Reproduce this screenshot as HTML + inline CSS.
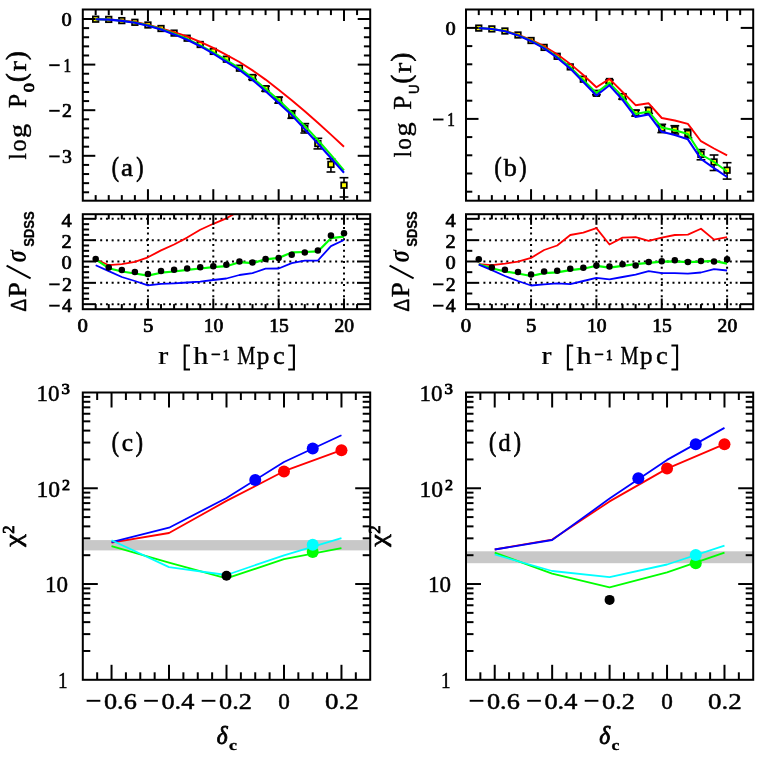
<!DOCTYPE html>
<html><head><meta charset="utf-8"><title>chart</title>
<style>html,body{margin:0;padding:0;background:#fff;}svg{display:block;will-change:transform;}</style></head><body>
<svg width="761" height="761" viewBox="0 0 761 761">
<rect x="0" y="0" width="761" height="761" fill="#fff"/>
<line x1="252.51" y1="75.5" x2="252.51" y2="79.5" stroke="#000" stroke-width="1.6" />
<line x1="248.11" y1="75.5" x2="256.91" y2="75.5" stroke="#000" stroke-width="1.6" />
<line x1="248.11" y1="79.5" x2="256.91" y2="79.5" stroke="#000" stroke-width="1.6" />
<line x1="265.58" y1="86.2" x2="265.58" y2="91.2" stroke="#000" stroke-width="1.6" />
<line x1="261.18" y1="86.2" x2="269.98" y2="86.2" stroke="#000" stroke-width="1.6" />
<line x1="261.18" y1="91.2" x2="269.98" y2="91.2" stroke="#000" stroke-width="1.6" />
<line x1="278.65" y1="97.1" x2="278.65" y2="103.1" stroke="#000" stroke-width="1.6" />
<line x1="274.25" y1="97.1" x2="283.05" y2="97.1" stroke="#000" stroke-width="1.6" />
<line x1="274.25" y1="103.1" x2="283.05" y2="103.1" stroke="#000" stroke-width="1.6" />
<line x1="291.72" y1="110.7" x2="291.72" y2="118.3" stroke="#000" stroke-width="1.6" />
<line x1="287.32" y1="110.7" x2="296.12" y2="110.7" stroke="#000" stroke-width="1.6" />
<line x1="287.32" y1="118.3" x2="296.12" y2="118.3" stroke="#000" stroke-width="1.6" />
<line x1="304.79" y1="123.6" x2="304.79" y2="133" stroke="#000" stroke-width="1.6" />
<line x1="300.39" y1="123.6" x2="309.19" y2="123.6" stroke="#000" stroke-width="1.6" />
<line x1="300.39" y1="133" x2="309.19" y2="133" stroke="#000" stroke-width="1.6" />
<line x1="317.86" y1="138.3" x2="317.86" y2="148.9" stroke="#000" stroke-width="1.6" />
<line x1="313.46" y1="138.3" x2="322.26" y2="138.3" stroke="#000" stroke-width="1.6" />
<line x1="313.46" y1="148.9" x2="322.26" y2="148.9" stroke="#000" stroke-width="1.6" />
<line x1="330.93" y1="158.8" x2="330.93" y2="172" stroke="#000" stroke-width="1.6" />
<line x1="326.53" y1="158.8" x2="335.33" y2="158.8" stroke="#000" stroke-width="1.6" />
<line x1="326.53" y1="172" x2="335.33" y2="172" stroke="#000" stroke-width="1.6" />
<line x1="344" y1="177.7" x2="344" y2="197" stroke="#000" stroke-width="1.6" />
<line x1="339.6" y1="177.7" x2="348.4" y2="177.7" stroke="#000" stroke-width="1.6" />
<line x1="339.6" y1="197" x2="348.4" y2="197" stroke="#000" stroke-width="1.6" />
<rect x="92.87" y="16.4" width="5.6" height="5.6" fill="#ffff00" stroke="#000" stroke-width="1.7"/>
<rect x="105.94" y="16.6" width="5.6" height="5.6" fill="#ffff00" stroke="#000" stroke-width="1.7"/>
<rect x="119.01" y="17.8" width="5.6" height="5.6" fill="#ffff00" stroke="#000" stroke-width="1.7"/>
<rect x="132.08" y="19.5" width="5.6" height="5.6" fill="#ffff00" stroke="#000" stroke-width="1.7"/>
<rect x="145.15" y="22.2" width="5.6" height="5.6" fill="#ffff00" stroke="#000" stroke-width="1.7"/>
<rect x="158.22" y="25.7" width="5.6" height="5.6" fill="#ffff00" stroke="#000" stroke-width="1.7"/>
<rect x="171.29" y="30.3" width="5.6" height="5.6" fill="#ffff00" stroke="#000" stroke-width="1.7"/>
<rect x="184.36" y="35.4" width="5.6" height="5.6" fill="#ffff00" stroke="#000" stroke-width="1.7"/>
<rect x="197.43" y="41.7" width="5.6" height="5.6" fill="#ffff00" stroke="#000" stroke-width="1.7"/>
<rect x="210.5" y="48.6" width="5.6" height="5.6" fill="#ffff00" stroke="#000" stroke-width="1.7"/>
<rect x="223.57" y="56.4" width="5.6" height="5.6" fill="#ffff00" stroke="#000" stroke-width="1.7"/>
<rect x="236.64" y="65.4" width="5.6" height="5.6" fill="#ffff00" stroke="#000" stroke-width="1.7"/>
<rect x="249.71" y="74.7" width="5.6" height="5.6" fill="#ffff00" stroke="#000" stroke-width="1.7"/>
<rect x="262.78" y="85.9" width="5.6" height="5.6" fill="#ffff00" stroke="#000" stroke-width="1.7"/>
<rect x="275.85" y="97.3" width="5.6" height="5.6" fill="#ffff00" stroke="#000" stroke-width="1.7"/>
<rect x="288.92" y="111.7" width="5.6" height="5.6" fill="#ffff00" stroke="#000" stroke-width="1.7"/>
<rect x="301.99" y="125.5" width="5.6" height="5.6" fill="#ffff00" stroke="#000" stroke-width="1.7"/>
<rect x="315.06" y="140.7" width="5.6" height="5.6" fill="#ffff00" stroke="#000" stroke-width="1.7"/>
<rect x="328.13" y="161.6" width="5.6" height="5.6" fill="#ffff00" stroke="#000" stroke-width="1.7"/>
<rect x="341.2" y="182.4" width="5.6" height="5.6" fill="#ffff00" stroke="#000" stroke-width="1.7"/>
<polyline points="95.67,19.2 108.74,19.4 121.81,20.5 134.88,22 147.95,24.6 161.02,28.3 174.09,32.2 187.16,36.5 200.23,41.8 213.3,47.9 226.37,54.8 239.44,62 252.51,70.4 265.58,79.6 278.65,89.8 291.72,100.2 304.79,111.2 317.86,122.8 330.93,134.6 344,146.8" fill="none" stroke="#ff0000" stroke-width="1.9" stroke-linejoin="round" stroke-linecap="butt"/>
<polyline points="95.67,19.2 108.74,19.5 121.81,20.7 134.88,22.5 147.95,25.3 161.02,29 174.09,33.6 187.16,38.8 200.23,45.4 213.3,52.3 226.37,60.2 239.44,68 252.51,77.7 265.58,88.7 278.65,100.1 291.72,112.5 304.79,125.9 317.86,140 330.93,154.8 344,170.3" fill="none" stroke="#00ff00" stroke-width="2" stroke-linejoin="round" stroke-linecap="butt"/>
<polyline points="95.67,19.2 108.74,19.6 121.81,20.9 134.88,22.8 147.95,25.7 161.02,29.6 174.09,34.4 187.16,39.8 200.23,46.2 213.3,53.7 226.37,61.8 239.44,69.8 252.51,79.9 265.58,91.2 278.65,102.9 291.72,115.1 304.79,129.2 317.86,143.5 330.93,158 344,172.7" fill="none" stroke="#0000ff" stroke-width="2.1" stroke-linejoin="round" stroke-linecap="butt"/>
<line x1="95.67" y1="9.5" x2="95.67" y2="15.1" stroke="#000" stroke-width="2" />
<line x1="95.67" y1="200.7" x2="95.67" y2="195.1" stroke="#000" stroke-width="2" />
<line x1="108.74" y1="9.5" x2="108.74" y2="15.1" stroke="#000" stroke-width="2" />
<line x1="108.74" y1="200.7" x2="108.74" y2="195.1" stroke="#000" stroke-width="2" />
<line x1="121.81" y1="9.5" x2="121.81" y2="15.1" stroke="#000" stroke-width="2" />
<line x1="121.81" y1="200.7" x2="121.81" y2="195.1" stroke="#000" stroke-width="2" />
<line x1="134.88" y1="9.5" x2="134.88" y2="15.1" stroke="#000" stroke-width="2" />
<line x1="134.88" y1="200.7" x2="134.88" y2="195.1" stroke="#000" stroke-width="2" />
<line x1="161.02" y1="9.5" x2="161.02" y2="15.1" stroke="#000" stroke-width="2" />
<line x1="161.02" y1="200.7" x2="161.02" y2="195.1" stroke="#000" stroke-width="2" />
<line x1="174.09" y1="9.5" x2="174.09" y2="15.1" stroke="#000" stroke-width="2" />
<line x1="174.09" y1="200.7" x2="174.09" y2="195.1" stroke="#000" stroke-width="2" />
<line x1="187.16" y1="9.5" x2="187.16" y2="15.1" stroke="#000" stroke-width="2" />
<line x1="187.16" y1="200.7" x2="187.16" y2="195.1" stroke="#000" stroke-width="2" />
<line x1="200.23" y1="9.5" x2="200.23" y2="15.1" stroke="#000" stroke-width="2" />
<line x1="200.23" y1="200.7" x2="200.23" y2="195.1" stroke="#000" stroke-width="2" />
<line x1="226.37" y1="9.5" x2="226.37" y2="15.1" stroke="#000" stroke-width="2" />
<line x1="226.37" y1="200.7" x2="226.37" y2="195.1" stroke="#000" stroke-width="2" />
<line x1="239.44" y1="9.5" x2="239.44" y2="15.1" stroke="#000" stroke-width="2" />
<line x1="239.44" y1="200.7" x2="239.44" y2="195.1" stroke="#000" stroke-width="2" />
<line x1="252.51" y1="9.5" x2="252.51" y2="15.1" stroke="#000" stroke-width="2" />
<line x1="252.51" y1="200.7" x2="252.51" y2="195.1" stroke="#000" stroke-width="2" />
<line x1="265.58" y1="9.5" x2="265.58" y2="15.1" stroke="#000" stroke-width="2" />
<line x1="265.58" y1="200.7" x2="265.58" y2="195.1" stroke="#000" stroke-width="2" />
<line x1="291.72" y1="9.5" x2="291.72" y2="15.1" stroke="#000" stroke-width="2" />
<line x1="291.72" y1="200.7" x2="291.72" y2="195.1" stroke="#000" stroke-width="2" />
<line x1="304.79" y1="9.5" x2="304.79" y2="15.1" stroke="#000" stroke-width="2" />
<line x1="304.79" y1="200.7" x2="304.79" y2="195.1" stroke="#000" stroke-width="2" />
<line x1="317.86" y1="9.5" x2="317.86" y2="15.1" stroke="#000" stroke-width="2" />
<line x1="317.86" y1="200.7" x2="317.86" y2="195.1" stroke="#000" stroke-width="2" />
<line x1="330.93" y1="9.5" x2="330.93" y2="15.1" stroke="#000" stroke-width="2" />
<line x1="330.93" y1="200.7" x2="330.93" y2="195.1" stroke="#000" stroke-width="2" />
<line x1="357.07" y1="9.5" x2="357.07" y2="15.1" stroke="#000" stroke-width="2" />
<line x1="357.07" y1="200.7" x2="357.07" y2="195.1" stroke="#000" stroke-width="2" />
<line x1="147.95" y1="9.5" x2="147.95" y2="21" stroke="#000" stroke-width="2" />
<line x1="147.95" y1="200.7" x2="147.95" y2="189.2" stroke="#000" stroke-width="2" />
<line x1="213.3" y1="9.5" x2="213.3" y2="21" stroke="#000" stroke-width="2" />
<line x1="213.3" y1="200.7" x2="213.3" y2="189.2" stroke="#000" stroke-width="2" />
<line x1="278.65" y1="9.5" x2="278.65" y2="21" stroke="#000" stroke-width="2" />
<line x1="278.65" y1="200.7" x2="278.65" y2="189.2" stroke="#000" stroke-width="2" />
<line x1="344" y1="9.5" x2="344" y2="21" stroke="#000" stroke-width="2" />
<line x1="344" y1="200.7" x2="344" y2="189.2" stroke="#000" stroke-width="2" />
<line x1="82.8" y1="192.28" x2="89.1" y2="192.28" stroke="#000" stroke-width="2" />
<line x1="370.2" y1="192.28" x2="363.9" y2="192.28" stroke="#000" stroke-width="2" />
<line x1="82.8" y1="183.16" x2="89.1" y2="183.16" stroke="#000" stroke-width="2" />
<line x1="370.2" y1="183.16" x2="363.9" y2="183.16" stroke="#000" stroke-width="2" />
<line x1="82.8" y1="174.04" x2="89.1" y2="174.04" stroke="#000" stroke-width="2" />
<line x1="370.2" y1="174.04" x2="363.9" y2="174.04" stroke="#000" stroke-width="2" />
<line x1="82.8" y1="164.92" x2="89.1" y2="164.92" stroke="#000" stroke-width="2" />
<line x1="370.2" y1="164.92" x2="363.9" y2="164.92" stroke="#000" stroke-width="2" />
<line x1="82.8" y1="146.68" x2="89.1" y2="146.68" stroke="#000" stroke-width="2" />
<line x1="370.2" y1="146.68" x2="363.9" y2="146.68" stroke="#000" stroke-width="2" />
<line x1="82.8" y1="137.56" x2="89.1" y2="137.56" stroke="#000" stroke-width="2" />
<line x1="370.2" y1="137.56" x2="363.9" y2="137.56" stroke="#000" stroke-width="2" />
<line x1="82.8" y1="128.44" x2="89.1" y2="128.44" stroke="#000" stroke-width="2" />
<line x1="370.2" y1="128.44" x2="363.9" y2="128.44" stroke="#000" stroke-width="2" />
<line x1="82.8" y1="119.32" x2="89.1" y2="119.32" stroke="#000" stroke-width="2" />
<line x1="370.2" y1="119.32" x2="363.9" y2="119.32" stroke="#000" stroke-width="2" />
<line x1="82.8" y1="101.08" x2="89.1" y2="101.08" stroke="#000" stroke-width="2" />
<line x1="370.2" y1="101.08" x2="363.9" y2="101.08" stroke="#000" stroke-width="2" />
<line x1="82.8" y1="91.96" x2="89.1" y2="91.96" stroke="#000" stroke-width="2" />
<line x1="370.2" y1="91.96" x2="363.9" y2="91.96" stroke="#000" stroke-width="2" />
<line x1="82.8" y1="82.84" x2="89.1" y2="82.84" stroke="#000" stroke-width="2" />
<line x1="370.2" y1="82.84" x2="363.9" y2="82.84" stroke="#000" stroke-width="2" />
<line x1="82.8" y1="73.72" x2="89.1" y2="73.72" stroke="#000" stroke-width="2" />
<line x1="370.2" y1="73.72" x2="363.9" y2="73.72" stroke="#000" stroke-width="2" />
<line x1="82.8" y1="55.48" x2="89.1" y2="55.48" stroke="#000" stroke-width="2" />
<line x1="370.2" y1="55.48" x2="363.9" y2="55.48" stroke="#000" stroke-width="2" />
<line x1="82.8" y1="46.36" x2="89.1" y2="46.36" stroke="#000" stroke-width="2" />
<line x1="370.2" y1="46.36" x2="363.9" y2="46.36" stroke="#000" stroke-width="2" />
<line x1="82.8" y1="37.24" x2="89.1" y2="37.24" stroke="#000" stroke-width="2" />
<line x1="370.2" y1="37.24" x2="363.9" y2="37.24" stroke="#000" stroke-width="2" />
<line x1="82.8" y1="28.12" x2="89.1" y2="28.12" stroke="#000" stroke-width="2" />
<line x1="370.2" y1="28.12" x2="363.9" y2="28.12" stroke="#000" stroke-width="2" />
<line x1="82.8" y1="155.8" x2="95.3" y2="155.8" stroke="#000" stroke-width="2" />
<line x1="370.2" y1="155.8" x2="357.7" y2="155.8" stroke="#000" stroke-width="2" />
<line x1="82.8" y1="110.2" x2="95.3" y2="110.2" stroke="#000" stroke-width="2" />
<line x1="370.2" y1="110.2" x2="357.7" y2="110.2" stroke="#000" stroke-width="2" />
<line x1="82.8" y1="64.6" x2="95.3" y2="64.6" stroke="#000" stroke-width="2" />
<line x1="370.2" y1="64.6" x2="357.7" y2="64.6" stroke="#000" stroke-width="2" />
<line x1="82.8" y1="19" x2="95.3" y2="19" stroke="#000" stroke-width="2" />
<line x1="370.2" y1="19" x2="357.7" y2="19" stroke="#000" stroke-width="2" />
<rect x="82.8" y="9.5" width="287.4" height="191.2" fill="none" stroke="#000" stroke-width="2"/>
<line x1="596.4" y1="91.8" x2="596.4" y2="94.8" stroke="#000" stroke-width="1.6" />
<line x1="592" y1="91.8" x2="600.8" y2="91.8" stroke="#000" stroke-width="1.6" />
<line x1="592" y1="94.8" x2="600.8" y2="94.8" stroke="#000" stroke-width="1.6" />
<line x1="609.47" y1="80" x2="609.47" y2="83" stroke="#000" stroke-width="1.6" />
<line x1="605.07" y1="80" x2="613.87" y2="80" stroke="#000" stroke-width="1.6" />
<line x1="605.07" y1="83" x2="613.87" y2="83" stroke="#000" stroke-width="1.6" />
<line x1="622.54" y1="94.1" x2="622.54" y2="99.1" stroke="#000" stroke-width="1.6" />
<line x1="618.14" y1="94.1" x2="626.94" y2="94.1" stroke="#000" stroke-width="1.6" />
<line x1="618.14" y1="99.1" x2="626.94" y2="99.1" stroke="#000" stroke-width="1.6" />
<line x1="635.61" y1="110.1" x2="635.61" y2="116.1" stroke="#000" stroke-width="1.6" />
<line x1="631.21" y1="110.1" x2="640.01" y2="110.1" stroke="#000" stroke-width="1.6" />
<line x1="631.21" y1="116.1" x2="640.01" y2="116.1" stroke="#000" stroke-width="1.6" />
<line x1="648.68" y1="107.4" x2="648.68" y2="113.4" stroke="#000" stroke-width="1.6" />
<line x1="644.28" y1="107.4" x2="653.08" y2="107.4" stroke="#000" stroke-width="1.6" />
<line x1="644.28" y1="113.4" x2="653.08" y2="113.4" stroke="#000" stroke-width="1.6" />
<line x1="661.75" y1="124.3" x2="661.75" y2="132.6" stroke="#000" stroke-width="1.6" />
<line x1="657.35" y1="124.3" x2="666.15" y2="124.3" stroke="#000" stroke-width="1.6" />
<line x1="657.35" y1="132.6" x2="666.15" y2="132.6" stroke="#000" stroke-width="1.6" />
<line x1="674.82" y1="125.7" x2="674.82" y2="134" stroke="#000" stroke-width="1.6" />
<line x1="670.42" y1="125.7" x2="679.22" y2="125.7" stroke="#000" stroke-width="1.6" />
<line x1="670.42" y1="134" x2="679.22" y2="134" stroke="#000" stroke-width="1.6" />
<line x1="687.89" y1="129.2" x2="687.89" y2="137.9" stroke="#000" stroke-width="1.6" />
<line x1="683.49" y1="129.2" x2="692.29" y2="129.2" stroke="#000" stroke-width="1.6" />
<line x1="683.49" y1="137.9" x2="692.29" y2="137.9" stroke="#000" stroke-width="1.6" />
<line x1="700.96" y1="149.6" x2="700.96" y2="159.8" stroke="#000" stroke-width="1.6" />
<line x1="696.56" y1="149.6" x2="705.36" y2="149.6" stroke="#000" stroke-width="1.6" />
<line x1="696.56" y1="159.8" x2="705.36" y2="159.8" stroke="#000" stroke-width="1.6" />
<line x1="714.03" y1="155" x2="714.03" y2="170.5" stroke="#000" stroke-width="1.6" />
<line x1="709.63" y1="155" x2="718.43" y2="155" stroke="#000" stroke-width="1.6" />
<line x1="709.63" y1="170.5" x2="718.43" y2="170.5" stroke="#000" stroke-width="1.6" />
<line x1="727.1" y1="162.7" x2="727.1" y2="179.1" stroke="#000" stroke-width="1.6" />
<line x1="722.7" y1="162.7" x2="731.5" y2="162.7" stroke="#000" stroke-width="1.6" />
<line x1="722.7" y1="179.1" x2="731.5" y2="179.1" stroke="#000" stroke-width="1.6" />
<rect x="475.97" y="25.3" width="5.6" height="5.6" fill="#ffff00" stroke="#000" stroke-width="1.7"/>
<rect x="489.04" y="26.1" width="5.6" height="5.6" fill="#ffff00" stroke="#000" stroke-width="1.7"/>
<rect x="502.11" y="28.2" width="5.6" height="5.6" fill="#ffff00" stroke="#000" stroke-width="1.7"/>
<rect x="515.18" y="32.2" width="5.6" height="5.6" fill="#ffff00" stroke="#000" stroke-width="1.7"/>
<rect x="528.25" y="37.7" width="5.6" height="5.6" fill="#ffff00" stroke="#000" stroke-width="1.7"/>
<rect x="541.32" y="44.6" width="5.6" height="5.6" fill="#ffff00" stroke="#000" stroke-width="1.7"/>
<rect x="554.39" y="53.5" width="5.6" height="5.6" fill="#ffff00" stroke="#000" stroke-width="1.7"/>
<rect x="567.46" y="64.1" width="5.6" height="5.6" fill="#ffff00" stroke="#000" stroke-width="1.7"/>
<rect x="580.53" y="76.4" width="5.6" height="5.6" fill="#ffff00" stroke="#000" stroke-width="1.7"/>
<rect x="593.6" y="90.5" width="5.6" height="5.6" fill="#ffff00" stroke="#000" stroke-width="1.7"/>
<rect x="606.67" y="78.7" width="5.6" height="5.6" fill="#ffff00" stroke="#000" stroke-width="1.7"/>
<rect x="619.74" y="93.8" width="5.6" height="5.6" fill="#ffff00" stroke="#000" stroke-width="1.7"/>
<rect x="632.81" y="110.3" width="5.6" height="5.6" fill="#ffff00" stroke="#000" stroke-width="1.7"/>
<rect x="645.88" y="107.6" width="5.6" height="5.6" fill="#ffff00" stroke="#000" stroke-width="1.7"/>
<rect x="658.95" y="125.5" width="5.6" height="5.6" fill="#ffff00" stroke="#000" stroke-width="1.7"/>
<rect x="672.02" y="126.9" width="5.6" height="5.6" fill="#ffff00" stroke="#000" stroke-width="1.7"/>
<rect x="685.09" y="130.6" width="5.6" height="5.6" fill="#ffff00" stroke="#000" stroke-width="1.7"/>
<rect x="698.16" y="151.6" width="5.6" height="5.6" fill="#ffff00" stroke="#000" stroke-width="1.7"/>
<rect x="711.23" y="159.2" width="5.6" height="5.6" fill="#ffff00" stroke="#000" stroke-width="1.7"/>
<rect x="724.3" y="167.4" width="5.6" height="5.6" fill="#ffff00" stroke="#000" stroke-width="1.7"/>
<polyline points="478.77,28.1 491.84,28.9 504.91,30.9 517.98,34.6 531.05,39.8 544.12,46.2 557.19,54.3 570.26,63.9 583.33,75 596.4,87.3 609.47,78.9 622.54,92 635.61,105.2 648.68,103.3 661.75,118 674.82,120.5 687.89,123.9 700.96,141.2 714.03,148.5 727.1,155.3" fill="none" stroke="#ff0000" stroke-width="1.9" stroke-linejoin="round" stroke-linecap="butt"/>
<polyline points="478.77,28.1 491.84,28.9 504.91,31.1 517.98,35.1 531.05,40.7 544.12,47.7 557.19,56.7 570.26,67.1 583.33,80 596.4,92.9 609.47,82.9 622.54,96.6 635.61,114 648.68,111.4 661.75,127.5 674.82,130.3 687.89,134 700.96,154.4 714.03,162 727.1,171.5" fill="none" stroke="#00ff00" stroke-width="2" stroke-linejoin="round" stroke-linecap="butt"/>
<polyline points="478.77,28.1 491.84,29 504.91,31.3 517.98,35.4 531.05,41.2 544.12,48.4 557.19,57.7 570.26,68.6 583.33,82 596.4,95.5 609.47,85.2 622.54,99.9 635.61,117 648.68,114.4 661.75,131.8 674.82,135.1 687.89,139.3 700.96,159 714.03,168.2 727.1,177" fill="none" stroke="#0000ff" stroke-width="2.1" stroke-linejoin="round" stroke-linecap="butt"/>
<line x1="478.77" y1="9.5" x2="478.77" y2="15.1" stroke="#000" stroke-width="2" />
<line x1="478.77" y1="200.7" x2="478.77" y2="195.1" stroke="#000" stroke-width="2" />
<line x1="491.84" y1="9.5" x2="491.84" y2="15.1" stroke="#000" stroke-width="2" />
<line x1="491.84" y1="200.7" x2="491.84" y2="195.1" stroke="#000" stroke-width="2" />
<line x1="504.91" y1="9.5" x2="504.91" y2="15.1" stroke="#000" stroke-width="2" />
<line x1="504.91" y1="200.7" x2="504.91" y2="195.1" stroke="#000" stroke-width="2" />
<line x1="517.98" y1="9.5" x2="517.98" y2="15.1" stroke="#000" stroke-width="2" />
<line x1="517.98" y1="200.7" x2="517.98" y2="195.1" stroke="#000" stroke-width="2" />
<line x1="544.12" y1="9.5" x2="544.12" y2="15.1" stroke="#000" stroke-width="2" />
<line x1="544.12" y1="200.7" x2="544.12" y2="195.1" stroke="#000" stroke-width="2" />
<line x1="557.19" y1="9.5" x2="557.19" y2="15.1" stroke="#000" stroke-width="2" />
<line x1="557.19" y1="200.7" x2="557.19" y2="195.1" stroke="#000" stroke-width="2" />
<line x1="570.26" y1="9.5" x2="570.26" y2="15.1" stroke="#000" stroke-width="2" />
<line x1="570.26" y1="200.7" x2="570.26" y2="195.1" stroke="#000" stroke-width="2" />
<line x1="583.33" y1="9.5" x2="583.33" y2="15.1" stroke="#000" stroke-width="2" />
<line x1="583.33" y1="200.7" x2="583.33" y2="195.1" stroke="#000" stroke-width="2" />
<line x1="609.47" y1="9.5" x2="609.47" y2="15.1" stroke="#000" stroke-width="2" />
<line x1="609.47" y1="200.7" x2="609.47" y2="195.1" stroke="#000" stroke-width="2" />
<line x1="622.54" y1="9.5" x2="622.54" y2="15.1" stroke="#000" stroke-width="2" />
<line x1="622.54" y1="200.7" x2="622.54" y2="195.1" stroke="#000" stroke-width="2" />
<line x1="635.61" y1="9.5" x2="635.61" y2="15.1" stroke="#000" stroke-width="2" />
<line x1="635.61" y1="200.7" x2="635.61" y2="195.1" stroke="#000" stroke-width="2" />
<line x1="648.68" y1="9.5" x2="648.68" y2="15.1" stroke="#000" stroke-width="2" />
<line x1="648.68" y1="200.7" x2="648.68" y2="195.1" stroke="#000" stroke-width="2" />
<line x1="674.82" y1="9.5" x2="674.82" y2="15.1" stroke="#000" stroke-width="2" />
<line x1="674.82" y1="200.7" x2="674.82" y2="195.1" stroke="#000" stroke-width="2" />
<line x1="687.89" y1="9.5" x2="687.89" y2="15.1" stroke="#000" stroke-width="2" />
<line x1="687.89" y1="200.7" x2="687.89" y2="195.1" stroke="#000" stroke-width="2" />
<line x1="700.96" y1="9.5" x2="700.96" y2="15.1" stroke="#000" stroke-width="2" />
<line x1="700.96" y1="200.7" x2="700.96" y2="195.1" stroke="#000" stroke-width="2" />
<line x1="714.03" y1="9.5" x2="714.03" y2="15.1" stroke="#000" stroke-width="2" />
<line x1="714.03" y1="200.7" x2="714.03" y2="195.1" stroke="#000" stroke-width="2" />
<line x1="740.17" y1="9.5" x2="740.17" y2="15.1" stroke="#000" stroke-width="2" />
<line x1="740.17" y1="200.7" x2="740.17" y2="195.1" stroke="#000" stroke-width="2" />
<line x1="531.05" y1="9.5" x2="531.05" y2="21" stroke="#000" stroke-width="2" />
<line x1="531.05" y1="200.7" x2="531.05" y2="189.2" stroke="#000" stroke-width="2" />
<line x1="596.4" y1="9.5" x2="596.4" y2="21" stroke="#000" stroke-width="2" />
<line x1="596.4" y1="200.7" x2="596.4" y2="189.2" stroke="#000" stroke-width="2" />
<line x1="661.75" y1="9.5" x2="661.75" y2="21" stroke="#000" stroke-width="2" />
<line x1="661.75" y1="200.7" x2="661.75" y2="189.2" stroke="#000" stroke-width="2" />
<line x1="727.1" y1="9.5" x2="727.1" y2="21" stroke="#000" stroke-width="2" />
<line x1="727.1" y1="200.7" x2="727.1" y2="189.2" stroke="#000" stroke-width="2" />
<line x1="466" y1="191.7" x2="472.3" y2="191.7" stroke="#000" stroke-width="2" />
<line x1="753.2" y1="191.7" x2="746.9" y2="191.7" stroke="#000" stroke-width="2" />
<line x1="466" y1="173.5" x2="472.3" y2="173.5" stroke="#000" stroke-width="2" />
<line x1="753.2" y1="173.5" x2="746.9" y2="173.5" stroke="#000" stroke-width="2" />
<line x1="466" y1="155.3" x2="472.3" y2="155.3" stroke="#000" stroke-width="2" />
<line x1="753.2" y1="155.3" x2="746.9" y2="155.3" stroke="#000" stroke-width="2" />
<line x1="466" y1="137.1" x2="472.3" y2="137.1" stroke="#000" stroke-width="2" />
<line x1="753.2" y1="137.1" x2="746.9" y2="137.1" stroke="#000" stroke-width="2" />
<line x1="466" y1="100.7" x2="472.3" y2="100.7" stroke="#000" stroke-width="2" />
<line x1="753.2" y1="100.7" x2="746.9" y2="100.7" stroke="#000" stroke-width="2" />
<line x1="466" y1="82.5" x2="472.3" y2="82.5" stroke="#000" stroke-width="2" />
<line x1="753.2" y1="82.5" x2="746.9" y2="82.5" stroke="#000" stroke-width="2" />
<line x1="466" y1="64.3" x2="472.3" y2="64.3" stroke="#000" stroke-width="2" />
<line x1="753.2" y1="64.3" x2="746.9" y2="64.3" stroke="#000" stroke-width="2" />
<line x1="466" y1="46.1" x2="472.3" y2="46.1" stroke="#000" stroke-width="2" />
<line x1="753.2" y1="46.1" x2="746.9" y2="46.1" stroke="#000" stroke-width="2" />
<line x1="466" y1="118.9" x2="478.5" y2="118.9" stroke="#000" stroke-width="2" />
<line x1="753.2" y1="118.9" x2="740.7" y2="118.9" stroke="#000" stroke-width="2" />
<line x1="466" y1="27.9" x2="478.5" y2="27.9" stroke="#000" stroke-width="2" />
<line x1="753.2" y1="27.9" x2="740.7" y2="27.9" stroke="#000" stroke-width="2" />
<rect x="466" y="9.5" width="287.2" height="191.2" fill="none" stroke="#000" stroke-width="2"/>
<clipPath id="ca"><rect x="82.8" y="214.2" width="287.4" height="95"/></clipPath>
<line x1="100.2" y1="218.82" x2="357.2" y2="218.82" stroke="#000" stroke-width="2" stroke-dasharray="2 3.73"/>
<line x1="100.2" y1="240.16" x2="357.2" y2="240.16" stroke="#000" stroke-width="2" stroke-dasharray="2 3.73"/>
<line x1="100.2" y1="261.5" x2="357.2" y2="261.5" stroke="#000" stroke-width="2" stroke-dasharray="2 3.73"/>
<line x1="100.2" y1="282.84" x2="357.2" y2="282.84" stroke="#000" stroke-width="2" stroke-dasharray="2 3.73"/>
<line x1="100.2" y1="304.18" x2="357.2" y2="304.18" stroke="#000" stroke-width="2" stroke-dasharray="2 3.73"/>
<line x1="147.95" y1="226.9" x2="147.95" y2="298.7" stroke="#000" stroke-width="2" stroke-dasharray="2 3.7"/>
<line x1="213.3" y1="226.9" x2="213.3" y2="298.7" stroke="#000" stroke-width="2" stroke-dasharray="2 3.7"/>
<line x1="278.65" y1="226.9" x2="278.65" y2="298.7" stroke="#000" stroke-width="2" stroke-dasharray="2 3.7"/>
<line x1="344" y1="226.9" x2="344" y2="298.7" stroke="#000" stroke-width="2" stroke-dasharray="2 3.7"/>
<g clip-path="url(#ca)">
<polyline points="95.67,259.3 108.74,265.2 121.81,264.2 134.88,261.8 147.95,257.3 161.02,250.4 174.09,244.5 187.16,237.6 200.23,229.7 213.3,223.8 226.37,218.3 239.44,211" fill="none" stroke="#ff0000" stroke-width="1.8" stroke-linejoin="round" stroke-linecap="butt"/>
<polyline points="95.67,259.3 108.74,268.2 121.81,271.5 134.88,273.5 147.95,275.6 161.02,272.7 174.09,271.5 187.16,269.9 200.23,268.5 213.3,267.2 226.37,266.2 239.44,262.2 252.51,263.2 265.58,259.3 278.65,257.9 291.72,252.4 304.79,252 317.86,251.4 330.93,238.2 344,236.6" fill="none" stroke="#00ff00" stroke-width="2.2" stroke-linejoin="round" stroke-linecap="butt"/>
<polyline points="95.67,265.2 108.74,271.1 121.81,277 134.88,281 147.95,285.3 161.02,283.9 174.09,283.3 187.16,282.5 200.23,281.6 213.3,280 226.37,278.5 239.44,275 252.51,273.1 265.58,268.7 278.65,268.5 291.72,263.2 304.79,260.7 317.86,260.5 330.93,246.1 344,240" fill="none" stroke="#0000ff" stroke-width="1.8" stroke-linejoin="round" stroke-linecap="butt"/>
</g>
<circle cx="95.67" cy="258.9" r="3.25" fill="#000"/>
<circle cx="108.74" cy="267.6" r="3.25" fill="#000"/>
<circle cx="121.81" cy="270.1" r="3.25" fill="#000"/>
<circle cx="134.88" cy="272.1" r="3.25" fill="#000"/>
<circle cx="147.95" cy="274.1" r="3.25" fill="#000"/>
<circle cx="161.02" cy="271.1" r="3.25" fill="#000"/>
<circle cx="174.09" cy="269.7" r="3.25" fill="#000"/>
<circle cx="187.16" cy="268.5" r="3.25" fill="#000"/>
<circle cx="200.23" cy="267.2" r="3.25" fill="#000"/>
<circle cx="213.3" cy="266.2" r="3.25" fill="#000"/>
<circle cx="226.37" cy="264.8" r="3.25" fill="#000"/>
<circle cx="239.44" cy="261.6" r="3.25" fill="#000"/>
<circle cx="252.51" cy="262.6" r="3.25" fill="#000"/>
<circle cx="265.58" cy="258.9" r="3.25" fill="#000"/>
<circle cx="278.65" cy="257.9" r="3.25" fill="#000"/>
<circle cx="291.72" cy="254.7" r="3.25" fill="#000"/>
<circle cx="304.79" cy="252.4" r="3.25" fill="#000"/>
<circle cx="317.86" cy="250.4" r="3.25" fill="#000"/>
<circle cx="330.93" cy="235.6" r="3.25" fill="#000"/>
<circle cx="344" cy="233.3" r="3.25" fill="#000"/>
<line x1="95.67" y1="214.2" x2="95.67" y2="219.3" stroke="#000" stroke-width="2" />
<line x1="95.67" y1="309.2" x2="95.67" y2="304.1" stroke="#000" stroke-width="2" />
<line x1="108.74" y1="214.2" x2="108.74" y2="219.3" stroke="#000" stroke-width="2" />
<line x1="108.74" y1="309.2" x2="108.74" y2="304.1" stroke="#000" stroke-width="2" />
<line x1="121.81" y1="214.2" x2="121.81" y2="219.3" stroke="#000" stroke-width="2" />
<line x1="121.81" y1="309.2" x2="121.81" y2="304.1" stroke="#000" stroke-width="2" />
<line x1="134.88" y1="214.2" x2="134.88" y2="219.3" stroke="#000" stroke-width="2" />
<line x1="134.88" y1="309.2" x2="134.88" y2="304.1" stroke="#000" stroke-width="2" />
<line x1="161.02" y1="214.2" x2="161.02" y2="219.3" stroke="#000" stroke-width="2" />
<line x1="161.02" y1="309.2" x2="161.02" y2="304.1" stroke="#000" stroke-width="2" />
<line x1="174.09" y1="214.2" x2="174.09" y2="219.3" stroke="#000" stroke-width="2" />
<line x1="174.09" y1="309.2" x2="174.09" y2="304.1" stroke="#000" stroke-width="2" />
<line x1="187.16" y1="214.2" x2="187.16" y2="219.3" stroke="#000" stroke-width="2" />
<line x1="187.16" y1="309.2" x2="187.16" y2="304.1" stroke="#000" stroke-width="2" />
<line x1="200.23" y1="214.2" x2="200.23" y2="219.3" stroke="#000" stroke-width="2" />
<line x1="200.23" y1="309.2" x2="200.23" y2="304.1" stroke="#000" stroke-width="2" />
<line x1="226.37" y1="214.2" x2="226.37" y2="219.3" stroke="#000" stroke-width="2" />
<line x1="226.37" y1="309.2" x2="226.37" y2="304.1" stroke="#000" stroke-width="2" />
<line x1="239.44" y1="214.2" x2="239.44" y2="219.3" stroke="#000" stroke-width="2" />
<line x1="239.44" y1="309.2" x2="239.44" y2="304.1" stroke="#000" stroke-width="2" />
<line x1="252.51" y1="214.2" x2="252.51" y2="219.3" stroke="#000" stroke-width="2" />
<line x1="252.51" y1="309.2" x2="252.51" y2="304.1" stroke="#000" stroke-width="2" />
<line x1="265.58" y1="214.2" x2="265.58" y2="219.3" stroke="#000" stroke-width="2" />
<line x1="265.58" y1="309.2" x2="265.58" y2="304.1" stroke="#000" stroke-width="2" />
<line x1="291.72" y1="214.2" x2="291.72" y2="219.3" stroke="#000" stroke-width="2" />
<line x1="291.72" y1="309.2" x2="291.72" y2="304.1" stroke="#000" stroke-width="2" />
<line x1="304.79" y1="214.2" x2="304.79" y2="219.3" stroke="#000" stroke-width="2" />
<line x1="304.79" y1="309.2" x2="304.79" y2="304.1" stroke="#000" stroke-width="2" />
<line x1="317.86" y1="214.2" x2="317.86" y2="219.3" stroke="#000" stroke-width="2" />
<line x1="317.86" y1="309.2" x2="317.86" y2="304.1" stroke="#000" stroke-width="2" />
<line x1="330.93" y1="214.2" x2="330.93" y2="219.3" stroke="#000" stroke-width="2" />
<line x1="330.93" y1="309.2" x2="330.93" y2="304.1" stroke="#000" stroke-width="2" />
<line x1="357.07" y1="214.2" x2="357.07" y2="219.3" stroke="#000" stroke-width="2" />
<line x1="357.07" y1="309.2" x2="357.07" y2="304.1" stroke="#000" stroke-width="2" />
<line x1="147.95" y1="214.2" x2="147.95" y2="224.8" stroke="#000" stroke-width="2" />
<line x1="147.95" y1="309.2" x2="147.95" y2="298.6" stroke="#000" stroke-width="2" />
<line x1="213.3" y1="214.2" x2="213.3" y2="224.8" stroke="#000" stroke-width="2" />
<line x1="213.3" y1="309.2" x2="213.3" y2="298.6" stroke="#000" stroke-width="2" />
<line x1="278.65" y1="214.2" x2="278.65" y2="224.8" stroke="#000" stroke-width="2" />
<line x1="278.65" y1="309.2" x2="278.65" y2="298.6" stroke="#000" stroke-width="2" />
<line x1="344" y1="214.2" x2="344" y2="224.8" stroke="#000" stroke-width="2" />
<line x1="344" y1="309.2" x2="344" y2="298.6" stroke="#000" stroke-width="2" />
<line x1="82.8" y1="298.85" x2="89.1" y2="298.85" stroke="#000" stroke-width="2" />
<line x1="370.2" y1="298.85" x2="363.9" y2="298.85" stroke="#000" stroke-width="2" />
<line x1="82.8" y1="293.51" x2="89.1" y2="293.51" stroke="#000" stroke-width="2" />
<line x1="370.2" y1="293.51" x2="363.9" y2="293.51" stroke="#000" stroke-width="2" />
<line x1="82.8" y1="288.18" x2="89.1" y2="288.18" stroke="#000" stroke-width="2" />
<line x1="370.2" y1="288.18" x2="363.9" y2="288.18" stroke="#000" stroke-width="2" />
<line x1="82.8" y1="277.5" x2="89.1" y2="277.5" stroke="#000" stroke-width="2" />
<line x1="370.2" y1="277.5" x2="363.9" y2="277.5" stroke="#000" stroke-width="2" />
<line x1="82.8" y1="272.17" x2="89.1" y2="272.17" stroke="#000" stroke-width="2" />
<line x1="370.2" y1="272.17" x2="363.9" y2="272.17" stroke="#000" stroke-width="2" />
<line x1="82.8" y1="266.83" x2="89.1" y2="266.83" stroke="#000" stroke-width="2" />
<line x1="370.2" y1="266.83" x2="363.9" y2="266.83" stroke="#000" stroke-width="2" />
<line x1="82.8" y1="256.17" x2="89.1" y2="256.17" stroke="#000" stroke-width="2" />
<line x1="370.2" y1="256.17" x2="363.9" y2="256.17" stroke="#000" stroke-width="2" />
<line x1="82.8" y1="250.83" x2="89.1" y2="250.83" stroke="#000" stroke-width="2" />
<line x1="370.2" y1="250.83" x2="363.9" y2="250.83" stroke="#000" stroke-width="2" />
<line x1="82.8" y1="245.5" x2="89.1" y2="245.5" stroke="#000" stroke-width="2" />
<line x1="370.2" y1="245.5" x2="363.9" y2="245.5" stroke="#000" stroke-width="2" />
<line x1="82.8" y1="234.82" x2="89.1" y2="234.82" stroke="#000" stroke-width="2" />
<line x1="370.2" y1="234.82" x2="363.9" y2="234.82" stroke="#000" stroke-width="2" />
<line x1="82.8" y1="229.49" x2="89.1" y2="229.49" stroke="#000" stroke-width="2" />
<line x1="370.2" y1="229.49" x2="363.9" y2="229.49" stroke="#000" stroke-width="2" />
<line x1="82.8" y1="224.16" x2="89.1" y2="224.16" stroke="#000" stroke-width="2" />
<line x1="370.2" y1="224.16" x2="363.9" y2="224.16" stroke="#000" stroke-width="2" />
<line x1="82.8" y1="304.18" x2="96" y2="304.18" stroke="#000" stroke-width="2" />
<line x1="370.2" y1="304.18" x2="357" y2="304.18" stroke="#000" stroke-width="2" />
<line x1="82.8" y1="282.84" x2="96" y2="282.84" stroke="#000" stroke-width="2" />
<line x1="370.2" y1="282.84" x2="357" y2="282.84" stroke="#000" stroke-width="2" />
<line x1="82.8" y1="261.5" x2="96" y2="261.5" stroke="#000" stroke-width="2" />
<line x1="370.2" y1="261.5" x2="357" y2="261.5" stroke="#000" stroke-width="2" />
<line x1="82.8" y1="240.16" x2="96" y2="240.16" stroke="#000" stroke-width="2" />
<line x1="370.2" y1="240.16" x2="357" y2="240.16" stroke="#000" stroke-width="2" />
<line x1="82.8" y1="218.82" x2="96" y2="218.82" stroke="#000" stroke-width="2" />
<line x1="370.2" y1="218.82" x2="357" y2="218.82" stroke="#000" stroke-width="2" />
<rect x="82.8" y="214.2" width="287.4" height="95" fill="none" stroke="#000" stroke-width="2"/>
<clipPath id="cb"><rect x="466" y="214.2" width="287.2" height="95"/></clipPath>
<line x1="483.4" y1="218.82" x2="740.2" y2="218.82" stroke="#000" stroke-width="2" stroke-dasharray="2 3.73"/>
<line x1="483.4" y1="240.16" x2="740.2" y2="240.16" stroke="#000" stroke-width="2" stroke-dasharray="2 3.73"/>
<line x1="483.4" y1="261.5" x2="740.2" y2="261.5" stroke="#000" stroke-width="2" stroke-dasharray="2 3.73"/>
<line x1="483.4" y1="282.84" x2="740.2" y2="282.84" stroke="#000" stroke-width="2" stroke-dasharray="2 3.73"/>
<line x1="483.4" y1="304.18" x2="740.2" y2="304.18" stroke="#000" stroke-width="2" stroke-dasharray="2 3.73"/>
<line x1="531.05" y1="226.9" x2="531.05" y2="298.7" stroke="#000" stroke-width="2" stroke-dasharray="2 3.7"/>
<line x1="596.4" y1="226.9" x2="596.4" y2="298.7" stroke="#000" stroke-width="2" stroke-dasharray="2 3.7"/>
<line x1="661.75" y1="226.9" x2="661.75" y2="298.7" stroke="#000" stroke-width="2" stroke-dasharray="2 3.7"/>
<line x1="727.1" y1="226.9" x2="727.1" y2="298.7" stroke="#000" stroke-width="2" stroke-dasharray="2 3.7"/>
<g clip-path="url(#cb)">
<polyline points="478.77,264.2 491.84,265.2 504.91,263.6 517.98,261.6 531.05,257.9 544.12,250 557.19,245.5 570.26,235 583.33,232.7 596.4,228.1 609.47,244.5 622.54,237.6 635.61,237.2 648.68,240.9 661.75,237.6 674.82,235 687.89,234.6 700.96,228.7 714.03,239.6 727.1,237.2" fill="none" stroke="#ff0000" stroke-width="1.8" stroke-linejoin="round" stroke-linecap="butt"/>
<polyline points="478.77,264.2 491.84,268.2 504.91,271.5 517.98,273.5 531.05,276 544.12,273.1 557.19,272.3 570.26,270.1 583.33,268.7 596.4,265.8 609.47,267.6 622.54,265.8 635.61,264.2 648.68,262.8 661.75,261.6 674.82,261.3 687.89,262.2 700.96,261.6 714.03,260.9 727.1,263.6" fill="none" stroke="#00ff00" stroke-width="2.2" stroke-linejoin="round" stroke-linecap="butt"/>
<polyline points="478.77,264.6 491.84,270.1 504.91,276 517.98,281 531.05,285.5 544.12,284.3 557.19,283.3 570.26,284.1 583.33,281 596.4,277.8 609.47,279.4 622.54,277 635.61,274.7 648.68,271.1 661.75,273.1 674.82,273.1 687.89,273.7 700.96,272.5 714.03,269.1 727.1,270.5" fill="none" stroke="#0000ff" stroke-width="1.8" stroke-linejoin="round" stroke-linecap="butt"/>
</g>
<circle cx="478.77" cy="259.3" r="3.25" fill="#000"/>
<circle cx="491.84" cy="267.6" r="3.25" fill="#000"/>
<circle cx="504.91" cy="269.7" r="3.25" fill="#000"/>
<circle cx="517.98" cy="272.1" r="3.25" fill="#000"/>
<circle cx="531.05" cy="274.5" r="3.25" fill="#000"/>
<circle cx="544.12" cy="271.5" r="3.25" fill="#000"/>
<circle cx="557.19" cy="270.7" r="3.25" fill="#000"/>
<circle cx="570.26" cy="268.7" r="3.25" fill="#000"/>
<circle cx="583.33" cy="267.8" r="3.25" fill="#000"/>
<circle cx="596.4" cy="265.6" r="3.25" fill="#000"/>
<circle cx="609.47" cy="266.4" r="3.25" fill="#000"/>
<circle cx="622.54" cy="264.2" r="3.25" fill="#000"/>
<circle cx="635.61" cy="265.6" r="3.25" fill="#000"/>
<circle cx="648.68" cy="262" r="3.25" fill="#000"/>
<circle cx="661.75" cy="261.3" r="3.25" fill="#000"/>
<circle cx="674.82" cy="260.3" r="3.25" fill="#000"/>
<circle cx="687.89" cy="262" r="3.25" fill="#000"/>
<circle cx="700.96" cy="260.9" r="3.25" fill="#000"/>
<circle cx="714.03" cy="261.6" r="3.25" fill="#000"/>
<circle cx="727.1" cy="259.3" r="3.25" fill="#000"/>
<line x1="478.77" y1="214.2" x2="478.77" y2="219.3" stroke="#000" stroke-width="2" />
<line x1="478.77" y1="309.2" x2="478.77" y2="304.1" stroke="#000" stroke-width="2" />
<line x1="491.84" y1="214.2" x2="491.84" y2="219.3" stroke="#000" stroke-width="2" />
<line x1="491.84" y1="309.2" x2="491.84" y2="304.1" stroke="#000" stroke-width="2" />
<line x1="504.91" y1="214.2" x2="504.91" y2="219.3" stroke="#000" stroke-width="2" />
<line x1="504.91" y1="309.2" x2="504.91" y2="304.1" stroke="#000" stroke-width="2" />
<line x1="517.98" y1="214.2" x2="517.98" y2="219.3" stroke="#000" stroke-width="2" />
<line x1="517.98" y1="309.2" x2="517.98" y2="304.1" stroke="#000" stroke-width="2" />
<line x1="544.12" y1="214.2" x2="544.12" y2="219.3" stroke="#000" stroke-width="2" />
<line x1="544.12" y1="309.2" x2="544.12" y2="304.1" stroke="#000" stroke-width="2" />
<line x1="557.19" y1="214.2" x2="557.19" y2="219.3" stroke="#000" stroke-width="2" />
<line x1="557.19" y1="309.2" x2="557.19" y2="304.1" stroke="#000" stroke-width="2" />
<line x1="570.26" y1="214.2" x2="570.26" y2="219.3" stroke="#000" stroke-width="2" />
<line x1="570.26" y1="309.2" x2="570.26" y2="304.1" stroke="#000" stroke-width="2" />
<line x1="583.33" y1="214.2" x2="583.33" y2="219.3" stroke="#000" stroke-width="2" />
<line x1="583.33" y1="309.2" x2="583.33" y2="304.1" stroke="#000" stroke-width="2" />
<line x1="609.47" y1="214.2" x2="609.47" y2="219.3" stroke="#000" stroke-width="2" />
<line x1="609.47" y1="309.2" x2="609.47" y2="304.1" stroke="#000" stroke-width="2" />
<line x1="622.54" y1="214.2" x2="622.54" y2="219.3" stroke="#000" stroke-width="2" />
<line x1="622.54" y1="309.2" x2="622.54" y2="304.1" stroke="#000" stroke-width="2" />
<line x1="635.61" y1="214.2" x2="635.61" y2="219.3" stroke="#000" stroke-width="2" />
<line x1="635.61" y1="309.2" x2="635.61" y2="304.1" stroke="#000" stroke-width="2" />
<line x1="648.68" y1="214.2" x2="648.68" y2="219.3" stroke="#000" stroke-width="2" />
<line x1="648.68" y1="309.2" x2="648.68" y2="304.1" stroke="#000" stroke-width="2" />
<line x1="674.82" y1="214.2" x2="674.82" y2="219.3" stroke="#000" stroke-width="2" />
<line x1="674.82" y1="309.2" x2="674.82" y2="304.1" stroke="#000" stroke-width="2" />
<line x1="687.89" y1="214.2" x2="687.89" y2="219.3" stroke="#000" stroke-width="2" />
<line x1="687.89" y1="309.2" x2="687.89" y2="304.1" stroke="#000" stroke-width="2" />
<line x1="700.96" y1="214.2" x2="700.96" y2="219.3" stroke="#000" stroke-width="2" />
<line x1="700.96" y1="309.2" x2="700.96" y2="304.1" stroke="#000" stroke-width="2" />
<line x1="714.03" y1="214.2" x2="714.03" y2="219.3" stroke="#000" stroke-width="2" />
<line x1="714.03" y1="309.2" x2="714.03" y2="304.1" stroke="#000" stroke-width="2" />
<line x1="740.17" y1="214.2" x2="740.17" y2="219.3" stroke="#000" stroke-width="2" />
<line x1="740.17" y1="309.2" x2="740.17" y2="304.1" stroke="#000" stroke-width="2" />
<line x1="531.05" y1="214.2" x2="531.05" y2="224.8" stroke="#000" stroke-width="2" />
<line x1="531.05" y1="309.2" x2="531.05" y2="298.6" stroke="#000" stroke-width="2" />
<line x1="596.4" y1="214.2" x2="596.4" y2="224.8" stroke="#000" stroke-width="2" />
<line x1="596.4" y1="309.2" x2="596.4" y2="298.6" stroke="#000" stroke-width="2" />
<line x1="661.75" y1="214.2" x2="661.75" y2="224.8" stroke="#000" stroke-width="2" />
<line x1="661.75" y1="309.2" x2="661.75" y2="298.6" stroke="#000" stroke-width="2" />
<line x1="727.1" y1="214.2" x2="727.1" y2="224.8" stroke="#000" stroke-width="2" />
<line x1="727.1" y1="309.2" x2="727.1" y2="298.6" stroke="#000" stroke-width="2" />
<line x1="466" y1="293.51" x2="472.3" y2="293.51" stroke="#000" stroke-width="2" />
<line x1="753.2" y1="293.51" x2="746.9" y2="293.51" stroke="#000" stroke-width="2" />
<line x1="466" y1="272.17" x2="472.3" y2="272.17" stroke="#000" stroke-width="2" />
<line x1="753.2" y1="272.17" x2="746.9" y2="272.17" stroke="#000" stroke-width="2" />
<line x1="466" y1="250.83" x2="472.3" y2="250.83" stroke="#000" stroke-width="2" />
<line x1="753.2" y1="250.83" x2="746.9" y2="250.83" stroke="#000" stroke-width="2" />
<line x1="466" y1="229.49" x2="472.3" y2="229.49" stroke="#000" stroke-width="2" />
<line x1="753.2" y1="229.49" x2="746.9" y2="229.49" stroke="#000" stroke-width="2" />
<line x1="466" y1="304.18" x2="479.2" y2="304.18" stroke="#000" stroke-width="2" />
<line x1="753.2" y1="304.18" x2="740" y2="304.18" stroke="#000" stroke-width="2" />
<line x1="466" y1="282.84" x2="479.2" y2="282.84" stroke="#000" stroke-width="2" />
<line x1="753.2" y1="282.84" x2="740" y2="282.84" stroke="#000" stroke-width="2" />
<line x1="466" y1="261.5" x2="479.2" y2="261.5" stroke="#000" stroke-width="2" />
<line x1="753.2" y1="261.5" x2="740" y2="261.5" stroke="#000" stroke-width="2" />
<line x1="466" y1="240.16" x2="479.2" y2="240.16" stroke="#000" stroke-width="2" />
<line x1="753.2" y1="240.16" x2="740" y2="240.16" stroke="#000" stroke-width="2" />
<line x1="466" y1="218.82" x2="479.2" y2="218.82" stroke="#000" stroke-width="2" />
<line x1="753.2" y1="218.82" x2="740" y2="218.82" stroke="#000" stroke-width="2" />
<rect x="466" y="214.2" width="287.2" height="95" fill="none" stroke="#000" stroke-width="2"/>
<rect x="82.8" y="540.1" width="287.4" height="10.3" fill="#c8c8c8"/>
<polyline points="111.54,542.7 169.02,533 226.5,500.9 283.98,471.2 341.46,450.2" fill="none" stroke="#ff0000" stroke-width="1.8" stroke-linejoin="round" stroke-linecap="butt"/>
<polyline points="111.54,542.1 169.02,527.7 226.5,498 283.98,462 341.46,435.2" fill="none" stroke="#0000ff" stroke-width="1.8" stroke-linejoin="round" stroke-linecap="butt"/>
<polyline points="111.54,546.1 169.02,562.6 226.5,578.4 283.98,559.2 341.46,548.2" fill="none" stroke="#00ff00" stroke-width="1.8" stroke-linejoin="round" stroke-linecap="butt"/>
<polyline points="111.54,540.3 169.02,567.1 226.5,575 283.98,555.3 341.46,538.2" fill="none" stroke="#00ffff" stroke-width="1.8" stroke-linejoin="round" stroke-linecap="butt"/>
<circle cx="312.72" cy="551.9" r="6" fill="#00ff00"/>
<circle cx="312.72" cy="544.8" r="6" fill="#00ffff"/>
<circle cx="283.98" cy="471.5" r="6" fill="#ff0000"/>
<circle cx="341.46" cy="450.2" r="6" fill="#ff0000"/>
<circle cx="255.24" cy="479.9" r="6" fill="#0000ff"/>
<circle cx="312.72" cy="448.4" r="6" fill="#0000ff"/>
<circle cx="226.5" cy="575.8" r="5" fill="#000"/>
<line x1="97.17" y1="392.5" x2="97.17" y2="400" stroke="#000" stroke-width="2" />
<line x1="97.17" y1="679.8" x2="97.17" y2="672.3" stroke="#000" stroke-width="2" />
<line x1="125.91" y1="392.5" x2="125.91" y2="400" stroke="#000" stroke-width="2" />
<line x1="125.91" y1="679.8" x2="125.91" y2="672.3" stroke="#000" stroke-width="2" />
<line x1="154.65" y1="392.5" x2="154.65" y2="400" stroke="#000" stroke-width="2" />
<line x1="154.65" y1="679.8" x2="154.65" y2="672.3" stroke="#000" stroke-width="2" />
<line x1="183.39" y1="392.5" x2="183.39" y2="400" stroke="#000" stroke-width="2" />
<line x1="183.39" y1="679.8" x2="183.39" y2="672.3" stroke="#000" stroke-width="2" />
<line x1="212.13" y1="392.5" x2="212.13" y2="400" stroke="#000" stroke-width="2" />
<line x1="212.13" y1="679.8" x2="212.13" y2="672.3" stroke="#000" stroke-width="2" />
<line x1="240.87" y1="392.5" x2="240.87" y2="400" stroke="#000" stroke-width="2" />
<line x1="240.87" y1="679.8" x2="240.87" y2="672.3" stroke="#000" stroke-width="2" />
<line x1="269.61" y1="392.5" x2="269.61" y2="400" stroke="#000" stroke-width="2" />
<line x1="269.61" y1="679.8" x2="269.61" y2="672.3" stroke="#000" stroke-width="2" />
<line x1="298.35" y1="392.5" x2="298.35" y2="400" stroke="#000" stroke-width="2" />
<line x1="298.35" y1="679.8" x2="298.35" y2="672.3" stroke="#000" stroke-width="2" />
<line x1="327.09" y1="392.5" x2="327.09" y2="400" stroke="#000" stroke-width="2" />
<line x1="327.09" y1="679.8" x2="327.09" y2="672.3" stroke="#000" stroke-width="2" />
<line x1="355.83" y1="392.5" x2="355.83" y2="400" stroke="#000" stroke-width="2" />
<line x1="355.83" y1="679.8" x2="355.83" y2="672.3" stroke="#000" stroke-width="2" />
<line x1="140.28" y1="392.5" x2="140.28" y2="400" stroke="#000" stroke-width="2" />
<line x1="140.28" y1="679.8" x2="140.28" y2="672.3" stroke="#000" stroke-width="2" />
<line x1="197.76" y1="392.5" x2="197.76" y2="400" stroke="#000" stroke-width="2" />
<line x1="197.76" y1="679.8" x2="197.76" y2="672.3" stroke="#000" stroke-width="2" />
<line x1="255.24" y1="392.5" x2="255.24" y2="400" stroke="#000" stroke-width="2" />
<line x1="255.24" y1="679.8" x2="255.24" y2="672.3" stroke="#000" stroke-width="2" />
<line x1="312.72" y1="392.5" x2="312.72" y2="400" stroke="#000" stroke-width="2" />
<line x1="312.72" y1="679.8" x2="312.72" y2="672.3" stroke="#000" stroke-width="2" />
<line x1="111.54" y1="392.5" x2="111.54" y2="407.5" stroke="#000" stroke-width="2" />
<line x1="111.54" y1="679.8" x2="111.54" y2="664.8" stroke="#000" stroke-width="2" />
<line x1="169.02" y1="392.5" x2="169.02" y2="407.5" stroke="#000" stroke-width="2" />
<line x1="169.02" y1="679.8" x2="169.02" y2="664.8" stroke="#000" stroke-width="2" />
<line x1="226.5" y1="392.5" x2="226.5" y2="407.5" stroke="#000" stroke-width="2" />
<line x1="226.5" y1="679.8" x2="226.5" y2="664.8" stroke="#000" stroke-width="2" />
<line x1="283.98" y1="392.5" x2="283.98" y2="407.5" stroke="#000" stroke-width="2" />
<line x1="283.98" y1="679.8" x2="283.98" y2="664.8" stroke="#000" stroke-width="2" />
<line x1="341.46" y1="392.5" x2="341.46" y2="407.5" stroke="#000" stroke-width="2" />
<line x1="341.46" y1="679.8" x2="341.46" y2="664.8" stroke="#000" stroke-width="2" />
<line x1="82.8" y1="650.97" x2="90.3" y2="650.97" stroke="#000" stroke-width="2" />
<line x1="370.2" y1="650.97" x2="362.7" y2="650.97" stroke="#000" stroke-width="2" />
<line x1="82.8" y1="634.11" x2="90.3" y2="634.11" stroke="#000" stroke-width="2" />
<line x1="370.2" y1="634.11" x2="362.7" y2="634.11" stroke="#000" stroke-width="2" />
<line x1="82.8" y1="622.14" x2="90.3" y2="622.14" stroke="#000" stroke-width="2" />
<line x1="370.2" y1="622.14" x2="362.7" y2="622.14" stroke="#000" stroke-width="2" />
<line x1="82.8" y1="612.86" x2="90.3" y2="612.86" stroke="#000" stroke-width="2" />
<line x1="370.2" y1="612.86" x2="362.7" y2="612.86" stroke="#000" stroke-width="2" />
<line x1="82.8" y1="605.28" x2="90.3" y2="605.28" stroke="#000" stroke-width="2" />
<line x1="370.2" y1="605.28" x2="362.7" y2="605.28" stroke="#000" stroke-width="2" />
<line x1="82.8" y1="598.87" x2="90.3" y2="598.87" stroke="#000" stroke-width="2" />
<line x1="370.2" y1="598.87" x2="362.7" y2="598.87" stroke="#000" stroke-width="2" />
<line x1="82.8" y1="593.31" x2="90.3" y2="593.31" stroke="#000" stroke-width="2" />
<line x1="370.2" y1="593.31" x2="362.7" y2="593.31" stroke="#000" stroke-width="2" />
<line x1="82.8" y1="588.42" x2="90.3" y2="588.42" stroke="#000" stroke-width="2" />
<line x1="370.2" y1="588.42" x2="362.7" y2="588.42" stroke="#000" stroke-width="2" />
<line x1="82.8" y1="555.2" x2="90.3" y2="555.2" stroke="#000" stroke-width="2" />
<line x1="370.2" y1="555.2" x2="362.7" y2="555.2" stroke="#000" stroke-width="2" />
<line x1="82.8" y1="538.34" x2="90.3" y2="538.34" stroke="#000" stroke-width="2" />
<line x1="370.2" y1="538.34" x2="362.7" y2="538.34" stroke="#000" stroke-width="2" />
<line x1="82.8" y1="526.38" x2="90.3" y2="526.38" stroke="#000" stroke-width="2" />
<line x1="370.2" y1="526.38" x2="362.7" y2="526.38" stroke="#000" stroke-width="2" />
<line x1="82.8" y1="517.1" x2="90.3" y2="517.1" stroke="#000" stroke-width="2" />
<line x1="370.2" y1="517.1" x2="362.7" y2="517.1" stroke="#000" stroke-width="2" />
<line x1="82.8" y1="509.51" x2="90.3" y2="509.51" stroke="#000" stroke-width="2" />
<line x1="370.2" y1="509.51" x2="362.7" y2="509.51" stroke="#000" stroke-width="2" />
<line x1="82.8" y1="503.1" x2="90.3" y2="503.1" stroke="#000" stroke-width="2" />
<line x1="370.2" y1="503.1" x2="362.7" y2="503.1" stroke="#000" stroke-width="2" />
<line x1="82.8" y1="497.55" x2="90.3" y2="497.55" stroke="#000" stroke-width="2" />
<line x1="370.2" y1="497.55" x2="362.7" y2="497.55" stroke="#000" stroke-width="2" />
<line x1="82.8" y1="492.65" x2="90.3" y2="492.65" stroke="#000" stroke-width="2" />
<line x1="370.2" y1="492.65" x2="362.7" y2="492.65" stroke="#000" stroke-width="2" />
<line x1="82.8" y1="459.44" x2="90.3" y2="459.44" stroke="#000" stroke-width="2" />
<line x1="370.2" y1="459.44" x2="362.7" y2="459.44" stroke="#000" stroke-width="2" />
<line x1="82.8" y1="442.57" x2="90.3" y2="442.57" stroke="#000" stroke-width="2" />
<line x1="370.2" y1="442.57" x2="362.7" y2="442.57" stroke="#000" stroke-width="2" />
<line x1="82.8" y1="430.61" x2="90.3" y2="430.61" stroke="#000" stroke-width="2" />
<line x1="370.2" y1="430.61" x2="362.7" y2="430.61" stroke="#000" stroke-width="2" />
<line x1="82.8" y1="421.33" x2="90.3" y2="421.33" stroke="#000" stroke-width="2" />
<line x1="370.2" y1="421.33" x2="362.7" y2="421.33" stroke="#000" stroke-width="2" />
<line x1="82.8" y1="413.75" x2="90.3" y2="413.75" stroke="#000" stroke-width="2" />
<line x1="370.2" y1="413.75" x2="362.7" y2="413.75" stroke="#000" stroke-width="2" />
<line x1="82.8" y1="407.33" x2="90.3" y2="407.33" stroke="#000" stroke-width="2" />
<line x1="370.2" y1="407.33" x2="362.7" y2="407.33" stroke="#000" stroke-width="2" />
<line x1="82.8" y1="401.78" x2="90.3" y2="401.78" stroke="#000" stroke-width="2" />
<line x1="370.2" y1="401.78" x2="362.7" y2="401.78" stroke="#000" stroke-width="2" />
<line x1="82.8" y1="396.88" x2="90.3" y2="396.88" stroke="#000" stroke-width="2" />
<line x1="370.2" y1="396.88" x2="362.7" y2="396.88" stroke="#000" stroke-width="2" />
<line x1="82.8" y1="584.03" x2="97.8" y2="584.03" stroke="#000" stroke-width="2" />
<line x1="370.2" y1="584.03" x2="355.2" y2="584.03" stroke="#000" stroke-width="2" />
<line x1="82.8" y1="488.27" x2="97.8" y2="488.27" stroke="#000" stroke-width="2" />
<line x1="370.2" y1="488.27" x2="355.2" y2="488.27" stroke="#000" stroke-width="2" />
<rect x="82.8" y="392.5" width="287.4" height="287.3" fill="none" stroke="#000" stroke-width="2"/>
<rect x="466" y="551.3" width="287.2" height="11.9" fill="#c8c8c8"/>
<polyline points="494.72,549.5 552.16,539.6 609.6,501.4 667.04,468.6 724.48,444.2" fill="none" stroke="#ff0000" stroke-width="1.8" stroke-linejoin="round" stroke-linecap="butt"/>
<polyline points="494.72,549.5 552.16,540 609.6,498.6 667.04,459.9 724.48,427.9" fill="none" stroke="#0000ff" stroke-width="1.8" stroke-linejoin="round" stroke-linecap="butt"/>
<polyline points="494.72,552.6 552.16,573.7 609.6,587.3 667.04,572.4 724.48,552.7" fill="none" stroke="#00ff00" stroke-width="1.8" stroke-linejoin="round" stroke-linecap="butt"/>
<polyline points="494.72,554.5 552.16,571 609.6,577.1 667.04,564.5 724.48,545.6" fill="none" stroke="#00ffff" stroke-width="1.8" stroke-linejoin="round" stroke-linecap="butt"/>
<circle cx="695.76" cy="563.2" r="6" fill="#00ff00"/>
<circle cx="695.76" cy="555" r="6" fill="#00ffff"/>
<circle cx="667.04" cy="468.6" r="6" fill="#ff0000"/>
<circle cx="724.48" cy="444.2" r="6" fill="#ff0000"/>
<circle cx="638.32" cy="478.3" r="6" fill="#0000ff"/>
<circle cx="695.76" cy="444.2" r="6" fill="#0000ff"/>
<circle cx="609.6" cy="599.9" r="5" fill="#000"/>
<line x1="480.36" y1="392.5" x2="480.36" y2="400" stroke="#000" stroke-width="2" />
<line x1="480.36" y1="679.8" x2="480.36" y2="672.3" stroke="#000" stroke-width="2" />
<line x1="509.08" y1="392.5" x2="509.08" y2="400" stroke="#000" stroke-width="2" />
<line x1="509.08" y1="679.8" x2="509.08" y2="672.3" stroke="#000" stroke-width="2" />
<line x1="537.8" y1="392.5" x2="537.8" y2="400" stroke="#000" stroke-width="2" />
<line x1="537.8" y1="679.8" x2="537.8" y2="672.3" stroke="#000" stroke-width="2" />
<line x1="566.52" y1="392.5" x2="566.52" y2="400" stroke="#000" stroke-width="2" />
<line x1="566.52" y1="679.8" x2="566.52" y2="672.3" stroke="#000" stroke-width="2" />
<line x1="595.24" y1="392.5" x2="595.24" y2="400" stroke="#000" stroke-width="2" />
<line x1="595.24" y1="679.8" x2="595.24" y2="672.3" stroke="#000" stroke-width="2" />
<line x1="623.96" y1="392.5" x2="623.96" y2="400" stroke="#000" stroke-width="2" />
<line x1="623.96" y1="679.8" x2="623.96" y2="672.3" stroke="#000" stroke-width="2" />
<line x1="652.68" y1="392.5" x2="652.68" y2="400" stroke="#000" stroke-width="2" />
<line x1="652.68" y1="679.8" x2="652.68" y2="672.3" stroke="#000" stroke-width="2" />
<line x1="681.4" y1="392.5" x2="681.4" y2="400" stroke="#000" stroke-width="2" />
<line x1="681.4" y1="679.8" x2="681.4" y2="672.3" stroke="#000" stroke-width="2" />
<line x1="710.12" y1="392.5" x2="710.12" y2="400" stroke="#000" stroke-width="2" />
<line x1="710.12" y1="679.8" x2="710.12" y2="672.3" stroke="#000" stroke-width="2" />
<line x1="738.84" y1="392.5" x2="738.84" y2="400" stroke="#000" stroke-width="2" />
<line x1="738.84" y1="679.8" x2="738.84" y2="672.3" stroke="#000" stroke-width="2" />
<line x1="523.44" y1="392.5" x2="523.44" y2="400" stroke="#000" stroke-width="2" />
<line x1="523.44" y1="679.8" x2="523.44" y2="672.3" stroke="#000" stroke-width="2" />
<line x1="580.88" y1="392.5" x2="580.88" y2="400" stroke="#000" stroke-width="2" />
<line x1="580.88" y1="679.8" x2="580.88" y2="672.3" stroke="#000" stroke-width="2" />
<line x1="638.32" y1="392.5" x2="638.32" y2="400" stroke="#000" stroke-width="2" />
<line x1="638.32" y1="679.8" x2="638.32" y2="672.3" stroke="#000" stroke-width="2" />
<line x1="695.76" y1="392.5" x2="695.76" y2="400" stroke="#000" stroke-width="2" />
<line x1="695.76" y1="679.8" x2="695.76" y2="672.3" stroke="#000" stroke-width="2" />
<line x1="494.72" y1="392.5" x2="494.72" y2="407.5" stroke="#000" stroke-width="2" />
<line x1="494.72" y1="679.8" x2="494.72" y2="664.8" stroke="#000" stroke-width="2" />
<line x1="552.16" y1="392.5" x2="552.16" y2="407.5" stroke="#000" stroke-width="2" />
<line x1="552.16" y1="679.8" x2="552.16" y2="664.8" stroke="#000" stroke-width="2" />
<line x1="609.6" y1="392.5" x2="609.6" y2="407.5" stroke="#000" stroke-width="2" />
<line x1="609.6" y1="679.8" x2="609.6" y2="664.8" stroke="#000" stroke-width="2" />
<line x1="667.04" y1="392.5" x2="667.04" y2="407.5" stroke="#000" stroke-width="2" />
<line x1="667.04" y1="679.8" x2="667.04" y2="664.8" stroke="#000" stroke-width="2" />
<line x1="724.48" y1="392.5" x2="724.48" y2="407.5" stroke="#000" stroke-width="2" />
<line x1="724.48" y1="679.8" x2="724.48" y2="664.8" stroke="#000" stroke-width="2" />
<line x1="466" y1="650.97" x2="473.5" y2="650.97" stroke="#000" stroke-width="2" />
<line x1="753.2" y1="650.97" x2="745.7" y2="650.97" stroke="#000" stroke-width="2" />
<line x1="466" y1="634.11" x2="473.5" y2="634.11" stroke="#000" stroke-width="2" />
<line x1="753.2" y1="634.11" x2="745.7" y2="634.11" stroke="#000" stroke-width="2" />
<line x1="466" y1="622.14" x2="473.5" y2="622.14" stroke="#000" stroke-width="2" />
<line x1="753.2" y1="622.14" x2="745.7" y2="622.14" stroke="#000" stroke-width="2" />
<line x1="466" y1="612.86" x2="473.5" y2="612.86" stroke="#000" stroke-width="2" />
<line x1="753.2" y1="612.86" x2="745.7" y2="612.86" stroke="#000" stroke-width="2" />
<line x1="466" y1="605.28" x2="473.5" y2="605.28" stroke="#000" stroke-width="2" />
<line x1="753.2" y1="605.28" x2="745.7" y2="605.28" stroke="#000" stroke-width="2" />
<line x1="466" y1="598.87" x2="473.5" y2="598.87" stroke="#000" stroke-width="2" />
<line x1="753.2" y1="598.87" x2="745.7" y2="598.87" stroke="#000" stroke-width="2" />
<line x1="466" y1="593.31" x2="473.5" y2="593.31" stroke="#000" stroke-width="2" />
<line x1="753.2" y1="593.31" x2="745.7" y2="593.31" stroke="#000" stroke-width="2" />
<line x1="466" y1="588.42" x2="473.5" y2="588.42" stroke="#000" stroke-width="2" />
<line x1="753.2" y1="588.42" x2="745.7" y2="588.42" stroke="#000" stroke-width="2" />
<line x1="466" y1="555.2" x2="473.5" y2="555.2" stroke="#000" stroke-width="2" />
<line x1="753.2" y1="555.2" x2="745.7" y2="555.2" stroke="#000" stroke-width="2" />
<line x1="466" y1="538.34" x2="473.5" y2="538.34" stroke="#000" stroke-width="2" />
<line x1="753.2" y1="538.34" x2="745.7" y2="538.34" stroke="#000" stroke-width="2" />
<line x1="466" y1="526.38" x2="473.5" y2="526.38" stroke="#000" stroke-width="2" />
<line x1="753.2" y1="526.38" x2="745.7" y2="526.38" stroke="#000" stroke-width="2" />
<line x1="466" y1="517.1" x2="473.5" y2="517.1" stroke="#000" stroke-width="2" />
<line x1="753.2" y1="517.1" x2="745.7" y2="517.1" stroke="#000" stroke-width="2" />
<line x1="466" y1="509.51" x2="473.5" y2="509.51" stroke="#000" stroke-width="2" />
<line x1="753.2" y1="509.51" x2="745.7" y2="509.51" stroke="#000" stroke-width="2" />
<line x1="466" y1="503.1" x2="473.5" y2="503.1" stroke="#000" stroke-width="2" />
<line x1="753.2" y1="503.1" x2="745.7" y2="503.1" stroke="#000" stroke-width="2" />
<line x1="466" y1="497.55" x2="473.5" y2="497.55" stroke="#000" stroke-width="2" />
<line x1="753.2" y1="497.55" x2="745.7" y2="497.55" stroke="#000" stroke-width="2" />
<line x1="466" y1="492.65" x2="473.5" y2="492.65" stroke="#000" stroke-width="2" />
<line x1="753.2" y1="492.65" x2="745.7" y2="492.65" stroke="#000" stroke-width="2" />
<line x1="466" y1="459.44" x2="473.5" y2="459.44" stroke="#000" stroke-width="2" />
<line x1="753.2" y1="459.44" x2="745.7" y2="459.44" stroke="#000" stroke-width="2" />
<line x1="466" y1="442.57" x2="473.5" y2="442.57" stroke="#000" stroke-width="2" />
<line x1="753.2" y1="442.57" x2="745.7" y2="442.57" stroke="#000" stroke-width="2" />
<line x1="466" y1="430.61" x2="473.5" y2="430.61" stroke="#000" stroke-width="2" />
<line x1="753.2" y1="430.61" x2="745.7" y2="430.61" stroke="#000" stroke-width="2" />
<line x1="466" y1="421.33" x2="473.5" y2="421.33" stroke="#000" stroke-width="2" />
<line x1="753.2" y1="421.33" x2="745.7" y2="421.33" stroke="#000" stroke-width="2" />
<line x1="466" y1="413.75" x2="473.5" y2="413.75" stroke="#000" stroke-width="2" />
<line x1="753.2" y1="413.75" x2="745.7" y2="413.75" stroke="#000" stroke-width="2" />
<line x1="466" y1="407.33" x2="473.5" y2="407.33" stroke="#000" stroke-width="2" />
<line x1="753.2" y1="407.33" x2="745.7" y2="407.33" stroke="#000" stroke-width="2" />
<line x1="466" y1="401.78" x2="473.5" y2="401.78" stroke="#000" stroke-width="2" />
<line x1="753.2" y1="401.78" x2="745.7" y2="401.78" stroke="#000" stroke-width="2" />
<line x1="466" y1="396.88" x2="473.5" y2="396.88" stroke="#000" stroke-width="2" />
<line x1="753.2" y1="396.88" x2="745.7" y2="396.88" stroke="#000" stroke-width="2" />
<line x1="466" y1="584.03" x2="481" y2="584.03" stroke="#000" stroke-width="2" />
<line x1="753.2" y1="584.03" x2="738.2" y2="584.03" stroke="#000" stroke-width="2" />
<line x1="466" y1="488.27" x2="481" y2="488.27" stroke="#000" stroke-width="2" />
<line x1="753.2" y1="488.27" x2="738.2" y2="488.27" stroke="#000" stroke-width="2" />
<rect x="466" y="392.5" width="287.2" height="287.3" fill="none" stroke="#000" stroke-width="2"/>
<text transform="translate(61.6 25.9) scale(1.0737 1)" x="0" y="0" font-family='"Liberation Serif", serif' font-size="19" font-weight="normal" font-style="normal" stroke="#000" stroke-width="0.7" stroke-linejoin="round">0</text>
<line x1="49.2" y1="65.2" x2="59.7" y2="65.2" stroke="#000" stroke-width="1.9" />
<text transform="translate(63.4 71.5) scale(0.8 1)" x="0" y="0" font-family='"Liberation Serif", serif' font-size="19" font-weight="normal" font-style="normal" stroke="#000" stroke-width="0.7" stroke-linejoin="round">1</text>
<line x1="49.2" y1="110.8" x2="59.7" y2="110.8" stroke="#000" stroke-width="1.9" />
<text transform="translate(61.9 117.1) scale(1.0421 1)" x="0" y="0" font-family='"Liberation Serif", serif' font-size="19" font-weight="normal" font-style="normal" stroke="#000" stroke-width="0.7" stroke-linejoin="round">2</text>
<line x1="49.2" y1="156.4" x2="59.7" y2="156.4" stroke="#000" stroke-width="1.9" />
<text transform="translate(61.9 162.7) scale(1.0421 1)" x="0" y="0" font-family='"Liberation Serif", serif' font-size="19" font-weight="normal" font-style="normal" stroke="#000" stroke-width="0.7" stroke-linejoin="round">3</text>
<text transform="translate(445.4 34.8) scale(1.0737 1)" x="0" y="0" font-family='"Liberation Serif", serif' font-size="19" font-weight="normal" font-style="normal" stroke="#000" stroke-width="0.7" stroke-linejoin="round">0</text>
<line x1="433" y1="119.5" x2="443.5" y2="119.5" stroke="#000" stroke-width="1.9" />
<text transform="translate(447.2 125.8) scale(0.8 1)" x="0" y="0" font-family='"Liberation Serif", serif' font-size="19" font-weight="normal" font-style="normal" stroke="#000" stroke-width="0.7" stroke-linejoin="round">1</text>
<text transform="translate(61.6 226.62) scale(1.0737 1)" x="0" y="0" font-family='"Liberation Serif", serif' font-size="19" font-weight="normal" font-style="normal" stroke="#000" stroke-width="0.7" stroke-linejoin="round">4</text>
<text transform="translate(61.6 247.96) scale(1.0737 1)" x="0" y="0" font-family='"Liberation Serif", serif' font-size="19" font-weight="normal" font-style="normal" stroke="#000" stroke-width="0.7" stroke-linejoin="round">2</text>
<text transform="translate(61.6 269.3) scale(1.0737 1)" x="0" y="0" font-family='"Liberation Serif", serif' font-size="19" font-weight="normal" font-style="normal" stroke="#000" stroke-width="0.7" stroke-linejoin="round">0</text>
<line x1="49.2" y1="284.34" x2="59.7" y2="284.34" stroke="#000" stroke-width="1.9" />
<text transform="translate(61.9 290.64) scale(1.0421 1)" x="0" y="0" font-family='"Liberation Serif", serif' font-size="19" font-weight="normal" font-style="normal" stroke="#000" stroke-width="0.7" stroke-linejoin="round">2</text>
<line x1="49.2" y1="305.68" x2="59.7" y2="305.68" stroke="#000" stroke-width="1.9" />
<text transform="translate(61.9 311.98) scale(1.0421 1)" x="0" y="0" font-family='"Liberation Serif", serif' font-size="19" font-weight="normal" font-style="normal" stroke="#000" stroke-width="0.7" stroke-linejoin="round">4</text>
<text transform="translate(445.4 226.62) scale(1.0737 1)" x="0" y="0" font-family='"Liberation Serif", serif' font-size="19" font-weight="normal" font-style="normal" stroke="#000" stroke-width="0.7" stroke-linejoin="round">4</text>
<text transform="translate(445.4 247.96) scale(1.0737 1)" x="0" y="0" font-family='"Liberation Serif", serif' font-size="19" font-weight="normal" font-style="normal" stroke="#000" stroke-width="0.7" stroke-linejoin="round">2</text>
<text transform="translate(445.4 269.3) scale(1.0737 1)" x="0" y="0" font-family='"Liberation Serif", serif' font-size="19" font-weight="normal" font-style="normal" stroke="#000" stroke-width="0.7" stroke-linejoin="round">0</text>
<line x1="433" y1="284.34" x2="443.5" y2="284.34" stroke="#000" stroke-width="1.9" />
<text transform="translate(445.7 290.64) scale(1.0421 1)" x="0" y="0" font-family='"Liberation Serif", serif' font-size="19" font-weight="normal" font-style="normal" stroke="#000" stroke-width="0.7" stroke-linejoin="round">2</text>
<line x1="433" y1="305.68" x2="443.5" y2="305.68" stroke="#000" stroke-width="1.9" />
<text transform="translate(445.7 311.98) scale(1.0421 1)" x="0" y="0" font-family='"Liberation Serif", serif' font-size="19" font-weight="normal" font-style="normal" stroke="#000" stroke-width="0.7" stroke-linejoin="round">4</text>
<text transform="translate(77.6 332.2) scale(1.0947 1)" x="0" y="0" font-family='"Liberation Serif", serif' font-size="19" font-weight="normal" font-style="normal" stroke="#000" stroke-width="0.7" stroke-linejoin="round">0</text>
<text transform="translate(142.95 332.2) scale(1.0947 1)" x="0" y="0" font-family='"Liberation Serif", serif' font-size="19" font-weight="normal" font-style="normal" stroke="#000" stroke-width="0.7" stroke-linejoin="round">5</text>
<text transform="translate(203.8 332.2) scale(1.0316 1)" x="0 9.5" y="0" font-family='"Liberation Serif", serif' font-size="19" font-weight="normal" font-style="normal" stroke="#000" stroke-width="0.7" stroke-linejoin="round">10</text>
<text transform="translate(269.15 332.2) scale(1.0316 1)" x="0 9.5" y="0" font-family='"Liberation Serif", serif' font-size="19" font-weight="normal" font-style="normal" stroke="#000" stroke-width="0.7" stroke-linejoin="round">15</text>
<text transform="translate(334.5 332.2) scale(1.0316 1)" x="0 9.5" y="0" font-family='"Liberation Serif", serif' font-size="19" font-weight="normal" font-style="normal" stroke="#000" stroke-width="0.7" stroke-linejoin="round">20</text>
<text transform="translate(460.7 332.2) scale(1.0947 1)" x="0" y="0" font-family='"Liberation Serif", serif' font-size="19" font-weight="normal" font-style="normal" stroke="#000" stroke-width="0.7" stroke-linejoin="round">0</text>
<text transform="translate(526.05 332.2) scale(1.0947 1)" x="0" y="0" font-family='"Liberation Serif", serif' font-size="19" font-weight="normal" font-style="normal" stroke="#000" stroke-width="0.7" stroke-linejoin="round">5</text>
<text transform="translate(586.9 332.2) scale(1.0316 1)" x="0 9.5" y="0" font-family='"Liberation Serif", serif' font-size="19" font-weight="normal" font-style="normal" stroke="#000" stroke-width="0.7" stroke-linejoin="round">10</text>
<text transform="translate(652.25 332.2) scale(1.0316 1)" x="0 9.5" y="0" font-family='"Liberation Serif", serif' font-size="19" font-weight="normal" font-style="normal" stroke="#000" stroke-width="0.7" stroke-linejoin="round">15</text>
<text transform="translate(717.6 332.2) scale(1.0316 1)" x="0 9.5" y="0" font-family='"Liberation Serif", serif' font-size="19" font-weight="normal" font-style="normal" stroke="#000" stroke-width="0.7" stroke-linejoin="round">20</text>
<text transform="translate(158.24 364.4) scale(1.18 1)" x="0" y="0" font-family='"Liberation Serif", serif' font-size="25.5" font-weight="normal" font-style="normal" stroke="#000" stroke-width="0.25" stroke-linejoin="round">r</text>
<polyline points="190,345.5 184.7,345.5 184.7,369.5 190,369.5" fill="none" stroke="#000" stroke-width="2.1"/>
<text transform="translate(193.28 364.4) scale(1.18 1)" x="0" y="0" font-family='"Liberation Serif", serif' font-size="25.5" font-weight="normal" font-style="normal" stroke="#000" stroke-width="0.25" stroke-linejoin="round">h</text>
<text transform="translate(211 359.8) scale(0.9804 1)" x="0" y="0" font-family='"Liberation Serif", serif' font-size="17" font-weight="normal" font-style="normal" stroke="#000" stroke-width="0.9" stroke-linejoin="round">−</text>
<text transform="translate(222.7 359.8) scale(0.8516 1)" x="0" y="0" font-family='"Liberation Serif", serif' font-size="15.5" font-weight="normal" font-style="normal" stroke="#000" stroke-width="0.8" stroke-linejoin="round">1</text>
<text transform="translate(237.28 364.4) scale(0.8 1)" x="0" y="0" font-family='"Liberation Serif", serif' font-size="25.5" font-weight="normal" font-style="normal" stroke="#000" stroke-width="0.4" stroke-linejoin="round">M</text>
<text transform="translate(256.7 364.4) scale(0.9882 1)" x="0" y="0" font-family='"Liberation Serif", serif' font-size="25.5" font-weight="normal" font-style="normal" stroke="#000" stroke-width="0.4" stroke-linejoin="round">p</text>
<text transform="translate(272.9 364.4) scale(1.0422 1)" x="0" y="0" font-family='"Liberation Serif", serif' font-size="25.5" font-weight="normal" font-style="normal" stroke="#000" stroke-width="0.4" stroke-linejoin="round">c</text>
<polyline points="288.2,345.5 293.9,345.5 293.9,369.5 288.2,369.5" fill="none" stroke="#000" stroke-width="2.1"/>
<text transform="translate(541.44 364.4) scale(1.18 1)" x="0" y="0" font-family='"Liberation Serif", serif' font-size="25.5" font-weight="normal" font-style="normal" stroke="#000" stroke-width="0.25" stroke-linejoin="round">r</text>
<polyline points="573.2,345.5 567.9,345.5 567.9,369.5 573.2,369.5" fill="none" stroke="#000" stroke-width="2.1"/>
<text transform="translate(576.48 364.4) scale(1.18 1)" x="0" y="0" font-family='"Liberation Serif", serif' font-size="25.5" font-weight="normal" font-style="normal" stroke="#000" stroke-width="0.25" stroke-linejoin="round">h</text>
<text transform="translate(594.2 359.8) scale(0.9804 1)" x="0" y="0" font-family='"Liberation Serif", serif' font-size="17" font-weight="normal" font-style="normal" stroke="#000" stroke-width="0.9" stroke-linejoin="round">−</text>
<text transform="translate(605.9 359.8) scale(0.8516 1)" x="0" y="0" font-family='"Liberation Serif", serif' font-size="15.5" font-weight="normal" font-style="normal" stroke="#000" stroke-width="0.8" stroke-linejoin="round">1</text>
<text transform="translate(620.48 364.4) scale(0.8 1)" x="0" y="0" font-family='"Liberation Serif", serif' font-size="25.5" font-weight="normal" font-style="normal" stroke="#000" stroke-width="0.4" stroke-linejoin="round">M</text>
<text transform="translate(639.9 364.4) scale(0.9882 1)" x="0" y="0" font-family='"Liberation Serif", serif' font-size="25.5" font-weight="normal" font-style="normal" stroke="#000" stroke-width="0.4" stroke-linejoin="round">p</text>
<text transform="translate(656.1 364.4) scale(1.0422 1)" x="0" y="0" font-family='"Liberation Serif", serif' font-size="25.5" font-weight="normal" font-style="normal" stroke="#000" stroke-width="0.4" stroke-linejoin="round">c</text>
<polyline points="671.4,345.5 677.1,345.5 677.1,369.5 671.4,369.5" fill="none" stroke="#000" stroke-width="2.1"/>
<g transform="translate(26.1 159.4) rotate(-90)">
<text transform="translate(0 0) scale(0.8854 1)" x="0" y="0" font-family='"Liberation Serif", serif' font-size="26" font-weight="normal" font-style="normal" stroke="#000" stroke-width="0.4" stroke-linejoin="round">l</text>
<text transform="translate(7.9 0) scale(0.9154 1)" x="0" y="0" font-family='"Liberation Serif", serif' font-size="26" font-weight="normal" font-style="normal" stroke="#000" stroke-width="0.4" stroke-linejoin="round">o</text>
<text transform="translate(21.4 0) scale(1.0846 1)" x="0" y="0" font-family='"Liberation Serif", serif' font-size="26" font-weight="normal" font-style="normal" stroke="#000" stroke-width="0.4" stroke-linejoin="round">g</text>
<text transform="translate(51.3 0) scale(0.9823 1)" x="0" y="0" font-family='"Liberation Serif", serif' font-size="26" font-weight="normal" font-style="normal" stroke="#000" stroke-width="0.4" stroke-linejoin="round">P</text>
<text transform="translate(67.22 7.8) scale(1.22 1)" x="0" y="0" font-family='"Liberation Serif", serif' font-size="15" font-weight="normal" font-style="normal" stroke="#000" stroke-width="0.8" stroke-linejoin="round">0</text>
<text transform="translate(77.3 -0.8) scale(0.9331 1)" x="0" y="0" font-family='"Liberation Serif", serif' font-size="28" font-weight="normal" font-style="normal" stroke="#000" stroke-width="0.8" stroke-linejoin="round">(</text>
<text transform="translate(87.82 0) scale(1.22 1)" x="0" y="0" font-family='"Liberation Serif", serif' font-size="26" font-weight="normal" font-style="normal" stroke="#000" stroke-width="0.4" stroke-linejoin="round">r</text>
<text transform="translate(99.4 -0.8) scale(0.9331 1)" x="0" y="0" font-family='"Liberation Serif", serif' font-size="28" font-weight="normal" font-style="normal" stroke="#000" stroke-width="0.8" stroke-linejoin="round">)</text>
</g>
<g transform="translate(411.1 157.3) rotate(-90)">
<text transform="translate(0 0) scale(0.8716 1)" x="0" y="0" font-family='"Liberation Serif", serif' font-size="26" font-weight="normal" font-style="normal" stroke="#000" stroke-width="0.4" stroke-linejoin="round">l</text>
<text transform="translate(7.9 0) scale(0.8692 1)" x="0" y="0" font-family='"Liberation Serif", serif' font-size="26" font-weight="normal" font-style="normal" stroke="#000" stroke-width="0.4" stroke-linejoin="round">o</text>
<text transform="translate(20.8 0) scale(1.0923 1)" x="0" y="0" font-family='"Liberation Serif", serif' font-size="26" font-weight="normal" font-style="normal" stroke="#000" stroke-width="0.4" stroke-linejoin="round">g</text>
<text transform="translate(47.6 0) scale(0.9823 1)" x="0" y="0" font-family='"Liberation Serif", serif' font-size="26" font-weight="normal" font-style="normal" stroke="#000" stroke-width="0.4" stroke-linejoin="round">P</text>
<text transform="translate(63.4 7.5) scale(0.9398 1)" x="0" y="0" font-family='"Liberation Sans", sans-serif' font-size="14" font-weight="normal" font-style="normal" stroke="#000" stroke-width="0.5" stroke-linejoin="round">U</text>
<text transform="translate(73.7 -0.8) scale(0.9224 1)" x="0" y="0" font-family='"Liberation Serif", serif' font-size="28" font-weight="normal" font-style="normal" stroke="#000" stroke-width="0.8" stroke-linejoin="round">(</text>
<text transform="translate(84.12 0) scale(1.22 1)" x="0" y="0" font-family='"Liberation Serif", serif' font-size="26" font-weight="normal" font-style="normal" stroke="#000" stroke-width="0.4" stroke-linejoin="round">r</text>
<text transform="translate(95.7 -0.8) scale(0.9331 1)" x="0" y="0" font-family='"Liberation Serif", serif' font-size="28" font-weight="normal" font-style="normal" stroke="#000" stroke-width="0.8" stroke-linejoin="round">)</text>
</g>
<g transform="translate(26 311.5) rotate(-90)">
<text transform="translate(0 0) scale(0.8339 1)" x="0" y="0" font-family='"Liberation Sans", sans-serif' font-size="22.8" font-weight="normal" font-style="normal" stroke="#000" stroke-width="0.5" stroke-linejoin="round">Δ</text>
<text transform="translate(14.2 0) scale(1.0791 1)" x="0" y="0" font-family='"Liberation Serif", serif' font-size="25" font-weight="normal" font-style="normal" stroke="#000" stroke-width="0.4" stroke-linejoin="round">P</text>
<line x1="33.2" y1="4.6" x2="45.8" y2="-19.4" stroke="#000" stroke-width="2"/>
<text transform="translate(48.9 0) scale(0.8024 1)" x="0" y="0" font-family='"Liberation Serif", serif' font-size="29" font-weight="bold" font-style="italic">σ</text>
<text transform="translate(64.7 7.9) scale(0.9312 1)" x="0 9.34 19.45 28.79" y="0" font-family='"Liberation Sans", sans-serif' font-size="14" font-weight="bold" font-style="normal" stroke="#000" stroke-width="0.35" stroke-linejoin="round">SDSS</text>
</g>
<g transform="translate(409 311.5) rotate(-90)">
<text transform="translate(0 0) scale(0.8339 1)" x="0" y="0" font-family='"Liberation Sans", sans-serif' font-size="22.8" font-weight="normal" font-style="normal" stroke="#000" stroke-width="0.5" stroke-linejoin="round">Δ</text>
<text transform="translate(14.2 0) scale(1.0791 1)" x="0" y="0" font-family='"Liberation Serif", serif' font-size="25" font-weight="normal" font-style="normal" stroke="#000" stroke-width="0.4" stroke-linejoin="round">P</text>
<line x1="33.2" y1="4.6" x2="45.8" y2="-19.4" stroke="#000" stroke-width="2"/>
<text transform="translate(48.9 0) scale(0.8024 1)" x="0" y="0" font-family='"Liberation Serif", serif' font-size="29" font-weight="bold" font-style="italic">σ</text>
<text transform="translate(64.7 7.9) scale(0.9312 1)" x="0 9.34 19.45 28.79" y="0" font-family='"Liberation Sans", sans-serif' font-size="14" font-weight="bold" font-style="normal" stroke="#000" stroke-width="0.35" stroke-linejoin="round">SDSS</text>
</g>
<line x1="86.66" y1="700.8" x2="100.36" y2="700.8" stroke="#000" stroke-width="1.9" />
<text transform="translate(103.96 708.5) scale(1.0967 1)" x="0 12 18" y="0" font-family='"Liberation Serif", serif' font-size="24" font-weight="normal" font-style="normal" stroke="#000" stroke-width="0.5" stroke-linejoin="round">0.6</text>
<line x1="144.18" y1="700.8" x2="157.88" y2="700.8" stroke="#000" stroke-width="1.9" />
<text transform="translate(161.48 708.5) scale(1.0967 1)" x="0 12 18" y="0" font-family='"Liberation Serif", serif' font-size="24" font-weight="normal" font-style="normal" stroke="#000" stroke-width="0.5" stroke-linejoin="round">0.4</text>
<line x1="201.7" y1="700.8" x2="215.4" y2="700.8" stroke="#000" stroke-width="1.9" />
<text transform="translate(219 708.5) scale(1.0967 1)" x="0 12 18" y="0" font-family='"Liberation Serif", serif' font-size="24" font-weight="normal" font-style="normal" stroke="#000" stroke-width="0.5" stroke-linejoin="round">0.2</text>
<text transform="translate(278.32 708.5) scale(0.9667 1)" x="0" y="0" font-family='"Liberation Serif", serif' font-size="24" font-weight="normal" font-style="normal" stroke="#000" stroke-width="0.5" stroke-linejoin="round">0</text>
<text transform="translate(324.94 708.5) scale(1.1233 1)" x="0 12 18" y="0" font-family='"Liberation Serif", serif' font-size="24" font-weight="normal" font-style="normal" stroke="#000" stroke-width="0.5" stroke-linejoin="round">0.2</text>
<text transform="translate(36.4 401.4) scale(0.9583 1)" x="0 12" y="0" font-family='"Liberation Serif", serif' font-size="24" font-weight="normal" font-style="normal" stroke="#000" stroke-width="0.5" stroke-linejoin="round">10</text>
<text transform="translate(61.5 394.2) scale(1.1667 1)" x="0" y="0" font-family='"Liberation Serif", serif' font-size="14.4" font-weight="normal" font-style="normal" stroke="#000" stroke-width="0.85" stroke-linejoin="round">3</text>
<text transform="translate(36.4 497) scale(0.9833 1)" x="0 12" y="0" font-family='"Liberation Serif", serif' font-size="24" font-weight="normal" font-style="normal" stroke="#000" stroke-width="0.5" stroke-linejoin="round">10</text>
<text transform="translate(62 489.7) scale(1.1111 1)" x="0" y="0" font-family='"Liberation Serif", serif' font-size="14.4" font-weight="normal" font-style="normal" stroke="#000" stroke-width="0.85" stroke-linejoin="round">2</text>
<text transform="translate(44.9 592.2) scale(0.9583 1)" x="0 12" y="0" font-family='"Liberation Serif", serif' font-size="24" font-weight="normal" font-style="normal" stroke="#000" stroke-width="0.5" stroke-linejoin="round">10</text>
<text transform="translate(58.05 687.9) scale(0.8 1)" x="0" y="0" font-family='"Liberation Serif", serif' font-size="24" font-weight="normal" font-style="normal" stroke="#000" stroke-width="0.5" stroke-linejoin="round">1</text>
<line x1="469.66" y1="700.8" x2="483.36" y2="700.8" stroke="#000" stroke-width="1.9" />
<text transform="translate(486.96 708.5) scale(1.0967 1)" x="0 12 18" y="0" font-family='"Liberation Serif", serif' font-size="24" font-weight="normal" font-style="normal" stroke="#000" stroke-width="0.5" stroke-linejoin="round">0.6</text>
<line x1="527.18" y1="700.8" x2="540.88" y2="700.8" stroke="#000" stroke-width="1.9" />
<text transform="translate(544.48 708.5) scale(1.0967 1)" x="0 12 18" y="0" font-family='"Liberation Serif", serif' font-size="24" font-weight="normal" font-style="normal" stroke="#000" stroke-width="0.5" stroke-linejoin="round">0.4</text>
<line x1="584.7" y1="700.8" x2="598.4" y2="700.8" stroke="#000" stroke-width="1.9" />
<text transform="translate(602 708.5) scale(1.0967 1)" x="0 12 18" y="0" font-family='"Liberation Serif", serif' font-size="24" font-weight="normal" font-style="normal" stroke="#000" stroke-width="0.5" stroke-linejoin="round">0.2</text>
<text transform="translate(661.32 708.5) scale(0.9667 1)" x="0" y="0" font-family='"Liberation Serif", serif' font-size="24" font-weight="normal" font-style="normal" stroke="#000" stroke-width="0.5" stroke-linejoin="round">0</text>
<text transform="translate(707.94 708.5) scale(1.1233 1)" x="0 12 18" y="0" font-family='"Liberation Serif", serif' font-size="24" font-weight="normal" font-style="normal" stroke="#000" stroke-width="0.5" stroke-linejoin="round">0.2</text>
<text transform="translate(419.4 401.4) scale(0.9583 1)" x="0 12" y="0" font-family='"Liberation Serif", serif' font-size="24" font-weight="normal" font-style="normal" stroke="#000" stroke-width="0.5" stroke-linejoin="round">10</text>
<text transform="translate(444.5 394.2) scale(1.1667 1)" x="0" y="0" font-family='"Liberation Serif", serif' font-size="14.4" font-weight="normal" font-style="normal" stroke="#000" stroke-width="0.85" stroke-linejoin="round">3</text>
<text transform="translate(419.4 497) scale(0.9833 1)" x="0 12" y="0" font-family='"Liberation Serif", serif' font-size="24" font-weight="normal" font-style="normal" stroke="#000" stroke-width="0.5" stroke-linejoin="round">10</text>
<text transform="translate(445 489.7) scale(1.1111 1)" x="0" y="0" font-family='"Liberation Serif", serif' font-size="14.4" font-weight="normal" font-style="normal" stroke="#000" stroke-width="0.85" stroke-linejoin="round">2</text>
<text transform="translate(427.9 592.2) scale(0.9583 1)" x="0 12" y="0" font-family='"Liberation Serif", serif' font-size="24" font-weight="normal" font-style="normal" stroke="#000" stroke-width="0.5" stroke-linejoin="round">10</text>
<text transform="translate(441.05 687.9) scale(0.8 1)" x="0" y="0" font-family='"Liberation Serif", serif' font-size="24" font-weight="normal" font-style="normal" stroke="#000" stroke-width="0.5" stroke-linejoin="round">1</text>
<text transform="translate(111.7 176.1) scale(0.8 1)" x="0" y="0" font-family='"Liberation Serif", serif' font-size="27" font-weight="normal" font-style="normal" stroke="#000" stroke-width="0.8" stroke-linejoin="round">(</text>
<text transform="translate(121.1 175.8) scale(1.0811 1)" x="0" y="0" font-family='"Liberation Serif", serif' font-size="25" font-weight="normal" font-style="normal" stroke="#000" stroke-width="0.55" stroke-linejoin="round">a</text>
<text transform="translate(136.3 176.1) scale(0.8 1)" x="0" y="0" font-family='"Liberation Serif", serif' font-size="27" font-weight="normal" font-style="normal" stroke="#000" stroke-width="0.8" stroke-linejoin="round">)</text>
<text transform="translate(494.4 176.1) scale(0.8 1)" x="0" y="0" font-family='"Liberation Serif", serif' font-size="27" font-weight="normal" font-style="normal" stroke="#000" stroke-width="0.8" stroke-linejoin="round">(</text>
<text transform="translate(503.8 175.8) scale(1.048 1)" x="0" y="0" font-family='"Liberation Serif", serif' font-size="25" font-weight="normal" font-style="normal" stroke="#000" stroke-width="0.55" stroke-linejoin="round">b</text>
<text transform="translate(519.3 176.1) scale(0.8 1)" x="0" y="0" font-family='"Liberation Serif", serif' font-size="27" font-weight="normal" font-style="normal" stroke="#000" stroke-width="0.8" stroke-linejoin="round">)</text>
<text transform="translate(111.7 451) scale(0.8 1)" x="0" y="0" font-family='"Liberation Serif", serif' font-size="27" font-weight="normal" font-style="normal" stroke="#000" stroke-width="0.8" stroke-linejoin="round">(</text>
<text transform="translate(121.8 450.7) scale(1.018 1)" x="0" y="0" font-family='"Liberation Serif", serif' font-size="25" font-weight="normal" font-style="normal" stroke="#000" stroke-width="0.55" stroke-linejoin="round">c</text>
<text transform="translate(135.7 451) scale(0.8 1)" x="0" y="0" font-family='"Liberation Serif", serif' font-size="27" font-weight="normal" font-style="normal" stroke="#000" stroke-width="0.8" stroke-linejoin="round">)</text>
<text transform="translate(488.9 451) scale(0.8 1)" x="0" y="0" font-family='"Liberation Serif", serif' font-size="27" font-weight="normal" font-style="normal" stroke="#000" stroke-width="0.8" stroke-linejoin="round">(</text>
<text transform="translate(498.5 450.7) scale(0.968 1)" x="0" y="0" font-family='"Liberation Serif", serif' font-size="25" font-weight="normal" font-style="normal" stroke="#000" stroke-width="0.55" stroke-linejoin="round">d</text>
<text transform="translate(513.8 451) scale(0.8 1)" x="0" y="0" font-family='"Liberation Serif", serif' font-size="27" font-weight="normal" font-style="normal" stroke="#000" stroke-width="0.8" stroke-linejoin="round">)</text>
<g transform="translate(20.6 546.8) rotate(-90)">
<text transform="translate(0.03 0) scale(1.1798 1)" x="0" y="0" font-family='"Liberation Serif", serif' font-size="24" font-weight="normal" font-style="normal" stroke="#000" stroke-width="0.7" stroke-linejoin="round">χ</text>
<text transform="translate(13 -6.4) scale(1.0375 1)" x="0" y="0" font-family='"Liberation Serif", serif' font-size="16" font-weight="normal" font-style="normal" stroke="#000" stroke-width="0.85" stroke-linejoin="round">2</text>
</g>
<g transform="translate(386.1 546.8) rotate(-90)">
<text transform="translate(0.03 0) scale(1.1798 1)" x="0" y="0" font-family='"Liberation Serif", serif' font-size="24" font-weight="normal" font-style="normal" stroke="#000" stroke-width="0.7" stroke-linejoin="round">χ</text>
<text transform="translate(13 -6.4) scale(1.0375 1)" x="0" y="0" font-family='"Liberation Serif", serif' font-size="16" font-weight="normal" font-style="normal" stroke="#000" stroke-width="0.85" stroke-linejoin="round">2</text>
</g>
<text transform="translate(216.7 743.5) scale(0.9353 1)" x="0" y="0" font-family='"Liberation Serif", serif' font-size="25" font-weight="normal" font-style="italic" stroke="#000" stroke-width="0.85" stroke-linejoin="round">δ</text>
<text transform="translate(229.1 750) scale(1.1479 1)" x="0" y="0" font-family='"Liberation Serif", serif' font-size="15.5" font-weight="bold" font-style="normal" stroke="#000" stroke-width="0.4" stroke-linejoin="round">c</text>
<text transform="translate(599.2 743.5) scale(0.9353 1)" x="0" y="0" font-family='"Liberation Serif", serif' font-size="25" font-weight="normal" font-style="italic" stroke="#000" stroke-width="0.85" stroke-linejoin="round">δ</text>
<text transform="translate(611.6 750) scale(1.1479 1)" x="0" y="0" font-family='"Liberation Serif", serif' font-size="15.5" font-weight="bold" font-style="normal" stroke="#000" stroke-width="0.4" stroke-linejoin="round">c</text>
</svg></body></html>
